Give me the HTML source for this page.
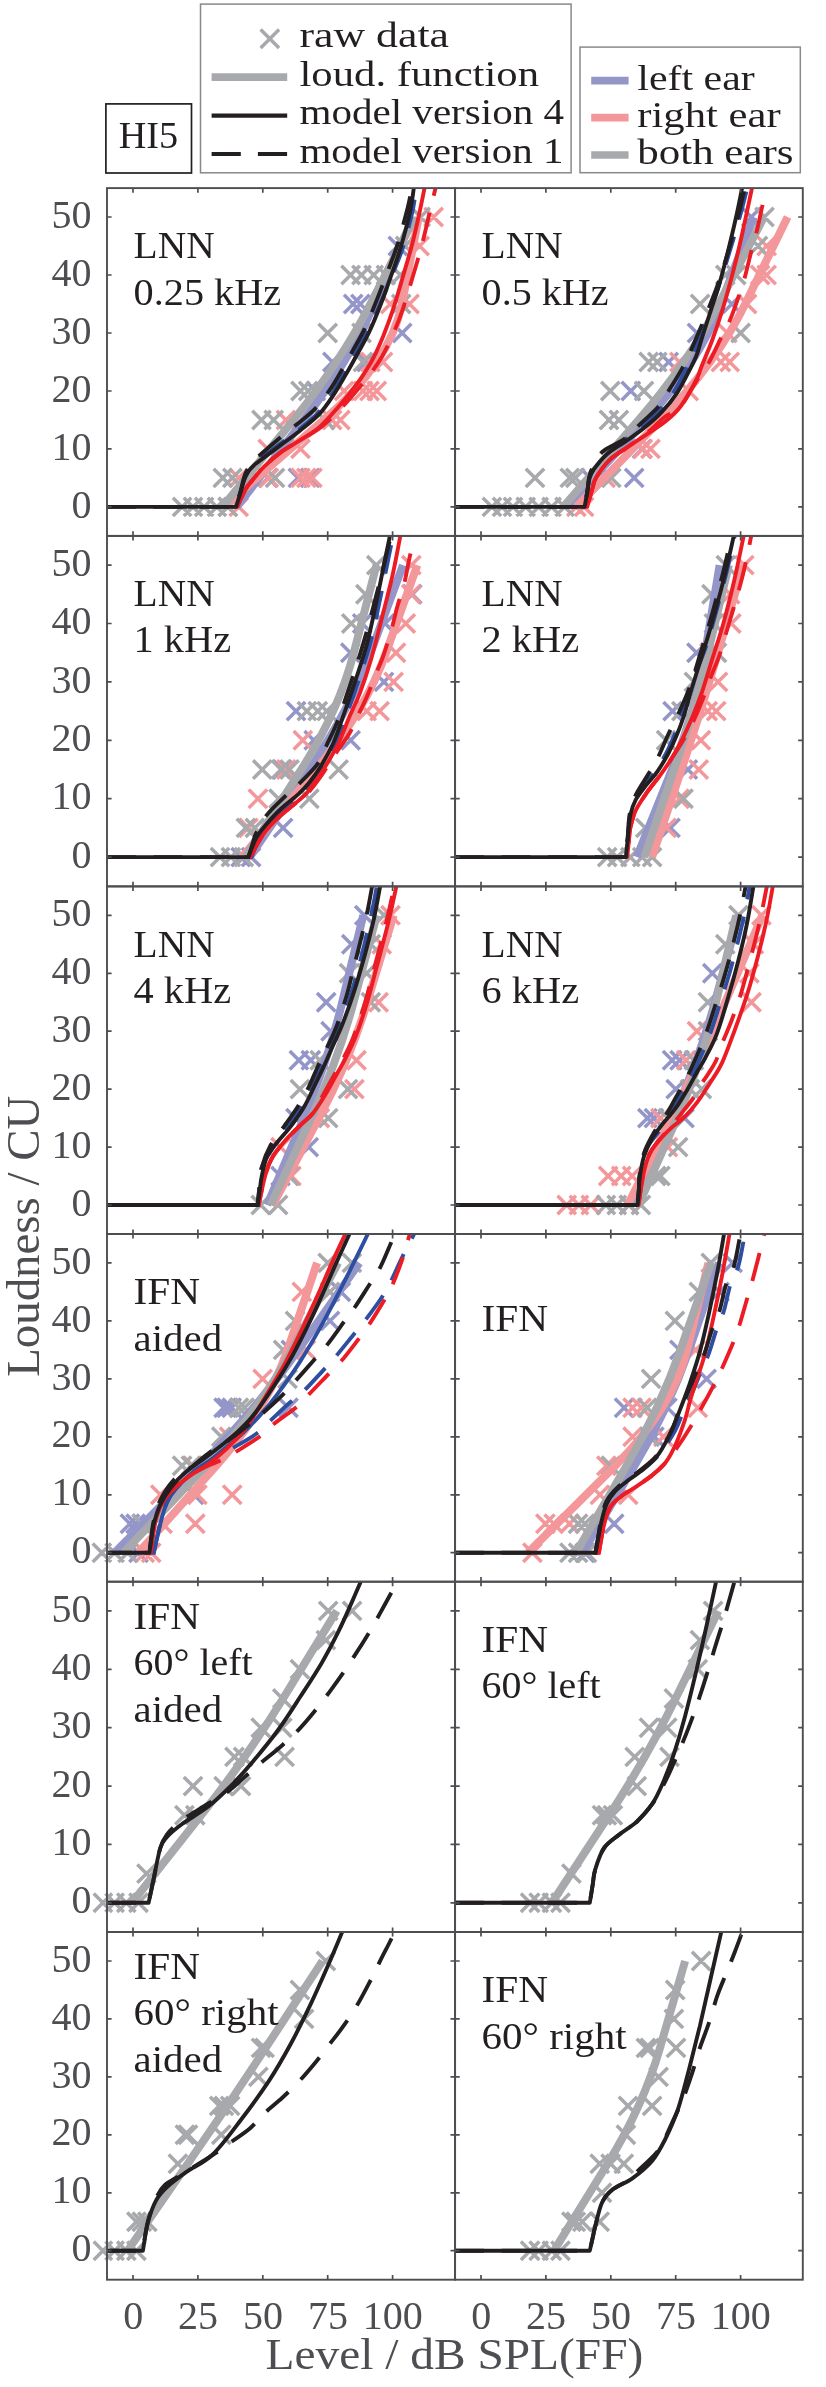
<!DOCTYPE html>
<html><head><meta charset="utf-8"><title>HI5 loudness</title>
<style>html,body{margin:0;padding:0;background:#fff}svg{display:block;will-change:transform}text{white-space:pre}</style></head>
<body>
<svg width="826" height="2387" viewBox="0 0 826 2387">
<rect width="826" height="2387" fill="#fff"/>
<defs>
<clipPath id="c00"><rect x="107" y="188.1" width="348" height="347.8"/></clipPath>
<clipPath id="c01"><rect x="455.1" y="188.1" width="347.7" height="347.8"/></clipPath>
<clipPath id="c10"><rect x="107" y="535.9" width="348" height="350.5"/></clipPath>
<clipPath id="c11"><rect x="455.1" y="535.9" width="347.7" height="350.5"/></clipPath>
<clipPath id="c20"><rect x="107" y="886.4" width="348" height="347.6"/></clipPath>
<clipPath id="c21"><rect x="455.1" y="886.4" width="347.7" height="347.6"/></clipPath>
<clipPath id="c30"><rect x="107" y="1234" width="348" height="347.7"/></clipPath>
<clipPath id="c31"><rect x="455.1" y="1234" width="347.7" height="347.7"/></clipPath>
<clipPath id="c40"><rect x="107" y="1581.7" width="348" height="350.3"/></clipPath>
<clipPath id="c41"><rect x="455.1" y="1581.7" width="347.7" height="350.3"/></clipPath>
<clipPath id="c50"><rect x="107" y="1932" width="348" height="347.7"/></clipPath>
<clipPath id="c51"><rect x="455.1" y="1932" width="347.7" height="347.7"/></clipPath>
</defs>
<path d="M288.7 468.7l18.4 18.4M288.7 487.1l18.4 -18.4M300.9 468.7l18.4 18.4M300.9 487.1l18.4 -18.4M258.8 468.7l18.4 18.4M258.8 487.1l18.4 -18.4M306.6 381.8l18.4 18.4M306.6 400.2l18.4 -18.4M323.2 352.8l18.4 18.4M323.2 371.2l18.4 -18.4M357.5 352.8l18.4 18.4M357.5 371.2l18.4 -18.4M393 323.8l18.4 18.4M393 342.2l18.4 -18.4M344 294.8l18.4 18.4M344 313.2l18.4 -18.4M351.2 294.8l18.4 18.4M351.2 313.2l18.4 -18.4M388.6 236.8l18.4 18.4M388.6 255.2l18.4 -18.4" stroke="#9496c9" stroke-width="3.5" fill="none"/>
<path d="M218.6 497.7l18.4 18.4M218.6 516.1l18.4 -18.4M229.5 497.7l18.4 18.4M229.5 516.1l18.4 -18.4M229.5 468.7l18.4 18.4M229.5 487.1l18.4 -18.4M259.6 468.7l18.4 18.4M259.6 487.1l18.4 -18.4M291.3 468.7l18.4 18.4M291.3 487.1l18.4 -18.4M297.2 468.7l18.4 18.4M297.2 487.1l18.4 -18.4M303.2 468.7l18.4 18.4M303.2 487.1l18.4 -18.4M258.5 439.7l18.4 18.4M258.5 458.1l18.4 -18.4M291.3 439.7l18.4 18.4M291.3 458.1l18.4 -18.4M276.7 410.8l18.4 18.4M276.7 429.2l18.4 -18.4M322.9 410.8l18.4 18.4M322.9 429.2l18.4 -18.4M331.2 410.8l18.4 18.4M331.2 429.2l18.4 -18.4M334.9 381.8l18.4 18.4M334.9 400.2l18.4 -18.4M353.8 381.8l18.4 18.4M353.8 400.2l18.4 -18.4M360.3 381.8l18.4 18.4M360.3 400.2l18.4 -18.4M367.6 381.8l18.4 18.4M367.6 400.2l18.4 -18.4M361.1 352.8l18.4 18.4M361.1 371.2l18.4 -18.4M373.8 352.8l18.4 18.4M373.8 371.2l18.4 -18.4M381.1 294.8l18.4 18.4M381.1 313.2l18.4 -18.4M400.3 294.8l18.4 18.4M400.3 313.2l18.4 -18.4M410.4 236.8l18.4 18.4M410.4 255.2l18.4 -18.4M424.4 207.8l18.4 18.4M424.4 226.2l18.4 -18.4" stroke="#f4979a" stroke-width="3.5" fill="none"/>
<path d="M172.9 497.7l18.4 18.4M172.9 516.1l18.4 -18.4M183.8 497.7l18.4 18.4M183.8 516.1l18.4 -18.4M194.9 497.7l18.4 18.4M194.9 516.1l18.4 -18.4M207.7 497.7l18.4 18.4M207.7 516.1l18.4 -18.4M218.6 497.7l18.4 18.4M218.6 516.1l18.4 -18.4M213.6 468.7l18.4 18.4M213.6 487.1l18.4 -18.4M223.2 468.7l18.4 18.4M223.2 487.1l18.4 -18.4M265.8 468.7l18.4 18.4M265.8 487.1l18.4 -18.4M252.3 410.8l18.4 18.4M252.3 429.2l18.4 -18.4M264.5 410.8l18.4 18.4M264.5 429.2l18.4 -18.4M315.9 410.8l18.4 18.4M315.9 429.2l18.4 -18.4M291.3 381.8l18.4 18.4M291.3 400.2l18.4 -18.4M299 381.8l18.4 18.4M299 400.2l18.4 -18.4M318.5 323.8l18.4 18.4M318.5 342.2l18.4 -18.4M352.3 323.8l18.4 18.4M352.3 342.2l18.4 -18.4M353.8 352.8l18.4 18.4M353.8 371.2l18.4 -18.4M341.4 265.8l18.4 18.4M341.4 284.2l18.4 -18.4M352.3 265.8l18.4 18.4M352.3 284.2l18.4 -18.4M364.5 265.8l18.4 18.4M364.5 284.2l18.4 -18.4M376.7 265.8l18.4 18.4M376.7 284.2l18.4 -18.4M391.2 265.8l18.4 18.4M391.2 284.2l18.4 -18.4M392 294.8l18.4 18.4M392 313.2l18.4 -18.4M395.9 236.8l18.4 18.4M395.9 255.2l18.4 -18.4M411.4 207.8l18.4 18.4M411.4 226.2l18.4 -18.4" stroke="#a7a9ac" stroke-width="3.5" fill="none"/>
<path clip-path="url(#c00)" d="M236.9 506.9L303.8 420Q348.5 362 374.4 304L413.4 217" stroke="#9496c9" stroke-width="8.0" fill="none" stroke-linejoin="round"/>
<path clip-path="url(#c00)" d="M223.4 506.9L323.7 420Q390.5 362 401.9 304L418.8 217" stroke="#f4979a" stroke-width="8.0" fill="none" stroke-linejoin="round"/>
<path clip-path="url(#c00)" d="M222.6 506.9L293.4 420Q340.7 362 370.4 304L414.9 217" stroke="#a7a9ac" stroke-width="8.0" fill="none" stroke-linejoin="round"/>
<g clip-path="url(#c00)"><path d="M230.1 506.9L236.1 506.9L236.1 506.9C236.9 504.2 239.6 495.3 241 490.7C242.4 486 243.2 482.3 244.4 479.1C245.6 475.9 247.1 473.9 248.3 471.5C249.5 469.2 249.8 467.2 251.6 465.2C253.5 463.1 254.7 462.8 259.2 459.4C263.7 456 272.2 449.7 278.6 444.9C285.1 440.1 291.4 435.6 297.9 430.4C304.3 425.2 311.7 419.7 317.3 413.6C323 407.5 327.4 400.5 331.9 393.9C336.3 387.2 340.3 380 344.1 373.6C347.8 367.1 350.7 361.8 354.4 355C358.2 348.3 362.1 341.5 366.4 333C370.7 324.5 376 313.3 380.1 304C384.3 294.7 387.4 286.6 391.2 277.3C394.9 268.1 399.1 259.2 402.6 248.4C406.1 237.5 410 222.7 412.3 212.1C414.7 201.6 415.8 189.7 416.5 185.2" stroke="#2e4ea1" stroke-width="3.9" fill="none" stroke-dasharray="29 17.5" stroke-dashoffset="30"/><path d="M231.4 506.9L237.4 506.9L237.4 506.9C238.7 504 243 493.9 245.4 489.5C247.8 485.2 248.8 484.6 251.9 480.8C255 477 259.3 471.4 264.1 466.6C269 461.8 275 456.5 281 452.1C287 447.7 293.7 444.4 300.2 440.2C306.6 436 313.2 432.6 319.7 426.9C326.2 421.2 333.2 412.8 339.1 406C345.1 399.3 351.1 391.7 355.2 386.3C359.4 380.9 361 378.4 364.1 373.6C367.1 368.7 370.5 363.6 373.7 357.3C376.9 351.1 380 343.9 383.3 335.9C386.5 327.9 389.9 319 393.1 309.2C396.4 299.5 399.5 288.3 402.7 277.3C405.9 266.4 409.5 254.6 412.3 243.7C415.2 232.8 417.5 221.9 419.6 212.1C421.7 202.4 424.2 189.7 425.1 185.2" stroke="#ed1c24" stroke-width="3.9" fill="none" stroke-linejoin="round"/><path d="M231.4 506.9L237.4 506.9L237.4 506.9C238.7 504 243 493.9 245.4 489.5C247.8 485.2 248.8 484.6 251.9 480.8C255 477 259.3 471.4 264.1 466.6C269 461.8 275 456.5 281 452.1C287 447.7 293.5 444.4 300.2 440.2C306.9 436 314.3 432.4 321.2 426.9C328.2 421.4 335.5 414 342 407.2C348.5 400.4 355.2 392.2 360.2 386.3C365.1 380.4 368.2 376.9 371.8 371.8C375.5 366.8 378.8 362.3 382.2 356.2C385.7 350.1 389.1 343.2 392.6 335.3C396.1 327.4 399.7 318.3 403 308.6C406.3 299 409.4 288.2 412.6 277.3C415.8 266.5 419.3 254.6 422.2 243.7C425.1 232.8 427.4 221.9 429.7 212.1C432.1 202.4 435.1 189.7 436.2 185.2" stroke="#ed1c24" stroke-width="3.9" fill="none" stroke-dasharray="29 17.5" stroke-dashoffset="31.3"/><path d="M107 506.9L236.1 506.9L236.1 506.9C236.9 504.2 239.6 495.3 241 490.7C242.4 486 243.2 482.3 244.4 479.1C245.6 475.9 246.7 473.9 248.3 471.5C249.9 469.2 251.8 467.2 254 465.2C256.2 463.1 257 462.8 261.5 459.4C266 456 274.5 449.7 281 444.9C287.4 440.1 293.7 435.6 300.2 430.4C306.6 425.2 314 419.7 319.7 413.6C325.3 407.5 329.7 400.5 334.2 393.9C338.7 387.2 342.6 380 346.4 373.6C350.2 367.1 353.1 361.8 356.8 355C360.5 348.3 364.7 341.5 368.7 333C372.8 324.5 377.3 313.3 380.9 304C384.6 294.7 387.3 286.6 390.5 277.3C393.8 268.1 397.2 259.2 400.4 248.4C403.6 237.5 407.7 222.7 410 212.1C412.3 201.6 413.5 189.7 414.2 185.2" stroke="#231f20" stroke-width="3.9" fill="none" stroke-linejoin="round"/><path d="M107 506.9L236.1 506.9L236.1 506.9C236.9 504.2 239.4 495.5 240.7 490.7C242 485.8 242.7 481.6 243.9 477.9C245 474.3 246.3 471.4 247.8 468.7C249.2 465.9 250.6 463.8 252.4 461.7C254.3 459.6 254.8 459.5 258.9 455.9C263 452.3 270.8 445.5 277.1 440.2C283.4 435 290.2 429.9 296.6 424.6C303 419.3 309.9 414.3 315.5 408.4C321.1 402.5 325.8 395.8 330.3 389.2C334.8 382.7 338.7 375.4 342.5 368.9C346.3 362.5 349.2 357.1 352.9 350.4C356.6 343.6 360.8 336.9 364.8 328.4C368.9 319.9 373.3 308.6 377 299.4C380.8 290.1 383.7 282 387.2 272.7C390.6 263.4 394.4 254.5 397.8 243.7C401.2 232.9 405.2 217.5 407.7 207.8C410.1 198 411.6 188.9 412.3 185.2" stroke="#231f20" stroke-width="3.9" fill="none" stroke-dasharray="29 17.5" stroke-dashoffset="0"/></g>
<text x="133.6" y="258.2" font-family="Liberation Serif, serif" font-size="37.3" fill="#231f20" textLength="81" lengthAdjust="spacingAndGlyphs">LNN</text>
<text x="133.6" y="304.6" font-family="Liberation Serif, serif" font-size="37.3" fill="#231f20" textLength="147.5" lengthAdjust="spacingAndGlyphs">0.25 kHz</text>
<path d="M625 468.7l18.4 18.4M625 487.1l18.4 -18.4M580.9 468.7l18.4 18.4M580.9 487.1l18.4 -18.4M632.8 439.7l18.4 18.4M632.8 458.1l18.4 -18.4M621.6 381.8l18.4 18.4M621.6 400.2l18.4 -18.4M659.5 352.8l18.4 18.4M659.5 371.2l18.4 -18.4M687.8 323.8l18.4 18.4M687.8 342.2l18.4 -18.4M722.6 294.8l18.4 18.4M722.6 313.2l18.4 -18.4M742.1 207.8l18.4 18.4M742.1 226.2l18.4 -18.4" stroke="#9496c9" stroke-width="3.5" fill="none"/>
<path d="M567.1 497.7l18.4 18.4M567.1 516.1l18.4 -18.4M574.9 497.7l18.4 18.4M574.9 516.1l18.4 -18.4M596.4 468.7l18.4 18.4M596.4 487.1l18.4 -18.4M633.6 439.7l18.4 18.4M633.6 458.1l18.4 -18.4M641.3 439.7l18.4 18.4M641.3 458.1l18.4 -18.4M679.5 381.8l18.4 18.4M679.5 400.2l18.4 -18.4M670.2 352.8l18.4 18.4M670.2 371.2l18.4 -18.4M711.7 352.8l18.4 18.4M711.7 371.2l18.4 -18.4M720.5 352.8l18.4 18.4M720.5 371.2l18.4 -18.4M718.2 323.8l18.4 18.4M718.2 342.2l18.4 -18.4M737.9 294.8l18.4 18.4M737.9 313.2l18.4 -18.4M750.9 265.8l18.4 18.4M750.9 284.2l18.4 -18.4M757.4 265.8l18.4 18.4M757.4 284.2l18.4 -18.4M757.4 236.8l18.4 18.4M757.4 255.2l18.4 -18.4" stroke="#f4979a" stroke-width="3.5" fill="none"/>
<path d="M482.7 497.7l18.4 18.4M482.7 516.1l18.4 -18.4M492.8 497.7l18.4 18.4M492.8 516.1l18.4 -18.4M503.8 497.7l18.4 18.4M503.8 516.1l18.4 -18.4M516.5 497.7l18.4 18.4M516.5 516.1l18.4 -18.4M529.5 497.7l18.4 18.4M529.5 516.1l18.4 -18.4M542.4 497.7l18.4 18.4M542.4 516.1l18.4 -18.4M555.4 497.7l18.4 18.4M555.4 516.1l18.4 -18.4M525.8 468.7l18.4 18.4M525.8 487.1l18.4 -18.4M560.6 468.7l18.4 18.4M560.6 487.1l18.4 -18.4M566.1 468.7l18.4 18.4M566.1 487.1l18.4 -18.4M602.1 468.7l18.4 18.4M602.1 487.1l18.4 -18.4M599.8 410.8l18.4 18.4M599.8 429.2l18.4 -18.4M609.7 410.8l18.4 18.4M609.7 429.2l18.4 -18.4M601.1 381.8l18.4 18.4M601.1 400.2l18.4 -18.4M634.8 381.8l18.4 18.4M634.8 400.2l18.4 -18.4M639.5 352.8l18.4 18.4M639.5 371.2l18.4 -18.4M648.1 352.8l18.4 18.4M648.1 371.2l18.4 -18.4M731.4 323.8l18.4 18.4M731.4 342.2l18.4 -18.4M690.9 294.8l18.4 18.4M690.9 313.2l18.4 -18.4M716.1 265.8l18.4 18.4M716.1 284.2l18.4 -18.4M727 265.8l18.4 18.4M727 284.2l18.4 -18.4M748.8 236.8l18.4 18.4M748.8 255.2l18.4 -18.4M755.3 207.8l18.4 18.4M755.3 226.2l18.4 -18.4" stroke="#a7a9ac" stroke-width="3.5" fill="none"/>
<path clip-path="url(#c01)" d="M566.7 506.9L646.1 420Q699.1 362 720.9 304L753.6 217" stroke="#9496c9" stroke-width="8.0" fill="none" stroke-linejoin="round"/>
<path clip-path="url(#c01)" d="M576.3 506.9L660.7 420Q717 362 745.2 304L787.6 217" stroke="#f4979a" stroke-width="8.0" fill="none" stroke-linejoin="round"/>
<path clip-path="url(#c01)" d="M563.3 506.9L638.5 420Q688.7 362 718.8 304L764 217" stroke="#a7a9ac" stroke-width="8.0" fill="none" stroke-linejoin="round"/>
<g clip-path="url(#c01)"><path d="M578.6 506.9L584.6 506.9L584.6 506.9C585.1 504.2 586.6 495.5 587.5 490.7C588.3 485.8 588.5 481.5 589.5 477.9C590.6 474.4 591 473.2 593.9 469.2C596.8 465.3 602 458.9 606.9 454.2C611.9 449.4 618.1 445.2 623.7 440.8C629.2 436.5 634.5 432.8 640.2 428.1C645.8 423.3 652.1 418.2 657.5 412.4C663 406.6 668.5 399.8 672.9 393.3C677.2 386.8 680.5 379.8 683.8 373.6C687 367.4 689.9 361.7 692.3 356.2C694.7 350.7 695.2 348.3 698.1 340.5C701 332.8 706.2 318.9 709.6 309.8C713.1 300.7 715.5 295.4 718.7 286C721.9 276.7 725.5 265.2 729 253.6C732.6 242 736.7 227.9 739.9 216.5C743 205.1 746.7 190.4 748 185.2" stroke="#2e4ea1" stroke-width="3.9" fill="none" stroke-dasharray="29 17.5" stroke-dashoffset="30.5"/><path d="M581.2 506.9L587.2 506.9L587.2 506.9C588 504 590.7 494.4 592.1 489.5C593.6 484.7 593.2 482.8 596 477.9C598.8 473.1 603.9 465.6 609 460.5C614.1 455.5 619.9 452.3 626.4 447.8C632.9 443.2 641.6 437.7 648.2 433.3C654.8 428.8 660.4 425.7 665.9 421.1C671.3 416.6 675.8 412.9 680.9 406C686 399.2 692.8 386.6 696.2 380C699.7 373.3 699 372.6 701.7 366C704.3 359.5 708.5 350.2 712.1 340.5C715.6 330.9 719.3 320 723 308.1C726.6 296.1 730.6 281.4 733.9 268.6C737.2 255.9 739.6 245.5 742.7 231.5C745.8 217.6 750.9 192.9 752.6 185.2" stroke="#ed1c24" stroke-width="3.9" fill="none" stroke-linejoin="round"/><path d="M581.2 506.9L587.2 506.9L587.2 506.9C588 504 590.7 494.4 592.1 489.5C593.6 484.7 593.2 482.8 596 477.9C598.8 473.1 603.9 465.6 609 460.5C614.1 455.5 619.9 452.5 626.4 447.8C632.9 443 641.7 437.3 648.2 432.1C654.7 426.9 660.5 420 665.3 416.5C670.1 412.9 673.7 413.5 677 410.7C680.3 407.9 681.7 405.2 685.3 399.7C688.9 394.2 694.6 383.8 698.6 377.6C702.5 371.4 705.2 369.1 708.9 362.6C712.7 356 717.4 345.2 720.9 338.2C724.4 331.3 726.6 328.1 729.7 320.8C732.8 313.6 736.8 302 739.3 294.7C741.8 287.5 742.8 284.6 744.8 277.3C746.8 270.1 749.3 258.9 751.3 251.3C753.3 243.6 754.8 239.4 756.7 231.5C758.6 223.7 761 212 762.7 204.3C764.3 196.6 765.9 188.3 766.6 185.2" stroke="#ed1c24" stroke-width="3.9" fill="none" stroke-dasharray="29 17.5" stroke-dashoffset="33.1"/><path d="M455.1 506.9L584.6 506.9L584.6 506.9C585.1 504.2 586.6 495.5 587.5 490.7C588.3 485.8 588.5 481.5 589.5 477.9C590.6 474.4 591 473.2 593.9 469.2C596.8 465.3 601.5 458.9 606.9 454.2C612.3 449.4 620.2 445.2 626.4 440.8C632.6 436.5 638.2 432.8 644 428.1C649.9 423.3 656 418.2 661.4 412.4C666.9 406.6 672.4 399.8 676.8 393.3C681.1 386.8 684.4 379.8 687.7 373.6C690.9 367.4 694 361.7 696.2 356.2C698.5 350.7 698.7 348.3 701.2 340.5C703.6 332.8 708.1 318.9 711 309.8C714 300.7 716.1 295.4 718.8 286C721.5 276.7 724.5 265.2 727.4 253.6C730.3 242 733.7 227.9 736.2 216.5C738.8 205.1 741.6 190.4 742.7 185.2" stroke="#231f20" stroke-width="3.9" fill="none" stroke-linejoin="round"/><path d="M455.1 506.9L584.6 506.9L584.6 506.9C585.1 504.2 586.7 495.5 587.5 490.7C588.2 485.8 588.1 481.8 589 477.9C589.9 474.1 590.4 471.8 592.6 467.5C594.9 463.1 597.2 456.6 602.5 451.8C607.8 447.1 618.1 443.6 624.3 439.1C630.5 434.5 633.8 430.1 639.6 424.6C645.4 419.1 654 412 659.1 406C664.2 400 666 395.2 670 388.6C674 382.1 679.1 374.6 683.2 366.6C687.4 358.6 691.3 349.5 695.2 340.5C699.1 331.5 703.2 321.8 706.9 312.7C710.5 303.6 713.8 295.9 717.3 286C720.7 276.2 724.2 265.2 727.6 253.6C731.1 242 735.1 227.9 738 216.5C741 205.1 744.1 190.4 745.3 185.2" stroke="#231f20" stroke-width="3.9" fill="none" stroke-dasharray="29 17.5" stroke-dashoffset="0"/></g>
<text x="481.6" y="258.2" font-family="Liberation Serif, serif" font-size="37.3" fill="#231f20" textLength="81" lengthAdjust="spacingAndGlyphs">LNN</text>
<text x="481.6" y="304.6" font-family="Liberation Serif, serif" font-size="37.3" fill="#231f20" textLength="127" lengthAdjust="spacingAndGlyphs">0.5 kHz</text>
<path d="M231.5 847.9l18.4 18.4M231.5 866.3l18.4 -18.4M241.9 847.9l18.4 18.4M241.9 866.3l18.4 -18.4M273.9 818.7l18.4 18.4M273.9 837.1l18.4 -18.4M273.1 760.3l18.4 18.4M273.1 778.7l18.4 -18.4M304.5 731.1l18.4 18.4M304.5 749.5l18.4 -18.4M341.4 731.1l18.4 18.4M341.4 749.5l18.4 -18.4M286.8 701.9l18.4 18.4M286.8 720.3l18.4 -18.4M374.8 672.7l18.4 18.4M374.8 691.1l18.4 -18.4M341.1 643.5l18.4 18.4M341.1 661.9l18.4 -18.4M353 614.3l18.4 18.4M353 632.7l18.4 -18.4M375.9 614.3l18.4 18.4M375.9 632.7l18.4 -18.4M403.1 585.1l18.4 18.4M403.1 603.5l18.4 -18.4" stroke="#9496c9" stroke-width="3.5" fill="none"/>
<path d="M239.3 818.7l18.4 18.4M239.3 837.1l18.4 -18.4M248.7 789.5l18.4 18.4M248.7 807.9l18.4 -18.4M277 760.3l18.4 18.4M277 778.7l18.4 -18.4M293.6 731.1l18.4 18.4M293.6 749.5l18.4 -18.4M357.5 701.9l18.4 18.4M357.5 720.3l18.4 -18.4M370.4 701.9l18.4 18.4M370.4 720.3l18.4 -18.4M384.4 672.7l18.4 18.4M384.4 691.1l18.4 -18.4M386.8 643.5l18.4 18.4M386.8 661.9l18.4 -18.4M396.6 614.3l18.4 18.4M396.6 632.7l18.4 -18.4M402.1 585.1l18.4 18.4M402.1 603.5l18.4 -18.4M402.1 555.9l18.4 18.4M402.1 574.3l18.4 -18.4" stroke="#f4979a" stroke-width="3.5" fill="none"/>
<path d="M210.8 847.9l18.4 18.4M210.8 866.3l18.4 -18.4M221.7 847.9l18.4 18.4M221.7 866.3l18.4 -18.4M234.7 847.9l18.4 18.4M234.7 866.3l18.4 -18.4M236.7 818.7l18.4 18.4M236.7 837.1l18.4 -18.4M245.6 818.7l18.4 18.4M245.6 837.1l18.4 -18.4M269.4 789.5l18.4 18.4M269.4 807.9l18.4 -18.4M300.1 789.5l18.4 18.4M300.1 807.9l18.4 -18.4M253.1 760.3l18.4 18.4M253.1 778.7l18.4 -18.4M271.8 760.3l18.4 18.4M271.8 778.7l18.4 -18.4M280.3 760.3l18.4 18.4M280.3 778.7l18.4 -18.4M329.4 760.3l18.4 18.4M329.4 778.7l18.4 -18.4M297.7 701.9l18.4 18.4M297.7 720.3l18.4 -18.4M308.6 701.9l18.4 18.4M308.6 720.3l18.4 -18.4M317.5 701.9l18.4 18.4M317.5 720.3l18.4 -18.4M342.1 614.3l18.4 18.4M342.1 632.7l18.4 -18.4M356.2 585.1l18.4 18.4M356.2 603.5l18.4 -18.4M367.1 555.9l18.4 18.4M367.1 574.3l18.4 -18.4" stroke="#a7a9ac" stroke-width="3.5" fill="none"/>
<path clip-path="url(#c10)" d="M249.8 857.1L309.3 769.5Q349 711.1 370.6 652.7L403 565.1" stroke="#9496c9" stroke-width="8.0" fill="none" stroke-linejoin="round"/>
<path clip-path="url(#c10)" d="M242 857.1L316 769.5Q365.4 711.1 386.1 652.7L417.3 565.1" stroke="#f4979a" stroke-width="8.0" fill="none" stroke-linejoin="round"/>
<path clip-path="url(#c10)" d="M245.4 857.1L301.3 769.5Q338.6 711.1 353.8 652.7L376.5 565.1" stroke="#a7a9ac" stroke-width="8.0" fill="none" stroke-linejoin="round"/>
<g clip-path="url(#c10)"><path d="M245.4 857.1L251.4 857.1L251.4 857.1C252.1 855.4 254.1 850 255.5 846.6C257 843.2 257.7 840.3 260 836.7C262.2 833.1 264.8 829.7 268.8 825C272.8 820.3 281.5 811.4 284.1 808.7" stroke="#2e4ea1" stroke-width="3.9" fill="none" stroke-linejoin="round"/><path d="M245.4 857.1L251.4 857.1L251.4 857.1C252.1 855.4 254.1 850 255.5 846.6C257 843.2 257.7 840.3 260 836.7C262.2 833.1 264.8 829.7 268.8 825C272.8 820.3 278.6 813.8 284.1 808.7C289.5 803.5 296.8 798.4 301.5 794.1C306.2 789.7 308.8 786.9 312.4 782.4C316 777.9 319.3 773.7 323.3 767.2C327.3 760.7 332.6 751.4 336.3 743.2C340 735.1 341.9 728.7 345.6 718.1C349.4 707.5 354.8 691.8 358.9 679.6C362.9 667.4 366.5 657.1 369.8 645.1C373 633.1 375.4 621.2 378.3 607.7C381.2 594.3 384.6 577 387.2 564.5C389.7 552.1 392.6 538.2 393.6 533" stroke="#2e4ea1" stroke-width="3.9" fill="none" stroke-dasharray="29 17.5" stroke-dashoffset="45.3"/><path d="M244.3 857.1L250.3 857.1L250.3 857.1C252.5 853.3 258.6 841 263.3 834.4C268 827.7 273.2 822.7 278.6 817.4C284.1 812.2 291.3 806.9 296 802.8C300.8 798.7 304.2 795.9 306.9 792.9C309.7 789.9 309.8 788.3 312.4 784.7C314.9 781.1 318.1 777.9 322.3 771.3C326.5 764.7 333 754.2 337.6 745C342.2 735.8 346.1 724.5 349.8 715.8C353.5 707.1 356.4 702.3 359.9 693C363.4 683.8 367.2 672.7 370.8 660.3C374.4 647.9 378.1 633.1 381.7 618.8C385.3 604.6 389.4 589.3 392.6 575C395.8 560.7 399.5 540 400.9 533" stroke="#ed1c24" stroke-width="3.9" fill="none" stroke-linejoin="round"/><path d="M244.3 857.1L250.3 857.1L250.3 857.1C252.5 853.3 258.6 841 263.3 834.4C268 827.7 273.2 822.7 278.6 817.4C284.1 812.2 291.3 806.7 296 802.8C300.8 798.9 303 798.3 306.9 794.1C310.9 789.9 315.2 784.4 319.9 777.7C324.7 771 330.5 761.3 335.5 753.8C340.5 746.3 345.9 739.5 349.8 732.7C353.7 726 356 719.4 358.9 713.5C361.7 707.5 363.6 704.2 366.7 697.1C369.7 690 374.4 678 377.3 670.8C380.2 663.6 381.5 661.5 384 653.9C386.6 646.3 390.4 633 392.6 625.3C394.8 617.6 395 614.9 397 607.7C399 600.5 402.4 590.7 404.6 582C406.7 573.4 408 563.9 410 555.8C412 547.6 415.6 536.8 416.8 533" stroke="#ed1c24" stroke-width="3.9" fill="none" stroke-dasharray="29 17.5" stroke-dashoffset="44.3"/><path d="M107 857.1L248.3 857.1L248.3 857.1C249 855.4 251 850 252.4 846.6C253.9 843.2 254.6 840.3 256.8 836.7C259 833.1 261.6 829.7 265.7 825C269.7 820.3 275.5 813.8 281 808.7C286.4 803.5 293.7 798.4 298.4 794.1C303.1 789.7 305.6 786.9 309.3 782.4C312.9 777.9 316.2 773.7 320.2 767.2C324.2 760.7 329.4 751.4 333.2 743.2C336.9 735.1 338.7 728.7 342.5 718.1C346.3 707.5 351.7 691.8 355.7 679.6C359.8 667.4 363.4 657.1 366.7 645.1C369.9 633.1 372.3 621.2 375.2 607.7C378.1 594.3 381.5 577 384 564.5C386.6 552.1 389.5 538.2 390.5 533" stroke="#231f20" stroke-width="3.9" fill="none" stroke-linejoin="round"/><path d="M107 857.1L248.3 857.1L248.3 857.1C249 855 251.1 848.4 252.4 844.3C253.8 840.2 253.9 837.5 256.3 832.6C258.7 827.7 261.9 821.1 266.7 815.1C271.5 809.1 279.5 801.9 285.1 796.4C290.8 790.9 295 787.8 300.5 782.4C305.9 776.9 313.5 769.9 317.8 763.7C322.2 757.5 323.4 752.1 326.7 745C330 737.9 333.5 731.6 337.6 721.1C341.6 710.5 346.9 694.6 351.1 681.9C355.3 669.3 359.1 657.5 362.8 645.1C366.4 632.8 369.6 621.2 373.1 607.7C376.7 594.3 381 577 384 564.5C387.1 552.1 390.3 538.2 391.6 533" stroke="#231f20" stroke-width="3.9" fill="none" stroke-dasharray="29 17.5" stroke-dashoffset="0"/></g>
<text x="133.6" y="606" font-family="Liberation Serif, serif" font-size="37.3" fill="#231f20" textLength="81" lengthAdjust="spacingAndGlyphs">LNN</text>
<text x="133.6" y="652.4" font-family="Liberation Serif, serif" font-size="37.3" fill="#231f20" textLength="97.5" lengthAdjust="spacingAndGlyphs">1 kHz</text>
<path d="M661.3 818.7l18.4 18.4M661.3 837.1l18.4 -18.4M678.7 760.3l18.4 18.4M678.7 778.7l18.4 -18.4M663.4 701.9l18.4 18.4M663.4 720.3l18.4 -18.4M687.3 643.5l18.4 18.4M687.3 661.9l18.4 -18.4" stroke="#9496c9" stroke-width="3.5" fill="none"/>
<path d="M657.4 818.7l18.4 18.4M657.4 837.1l18.4 -18.4M670.4 789.5l18.4 18.4M670.4 807.9l18.4 -18.4M689.6 760.3l18.4 18.4M689.6 778.7l18.4 -18.4M691.7 731.1l18.4 18.4M691.7 749.5l18.4 -18.4M707 701.9l18.4 18.4M707 720.3l18.4 -18.4M698.5 701.9l18.4 18.4M698.5 720.3l18.4 -18.4M708.8 672.7l18.4 18.4M708.8 691.1l18.4 -18.4M700.3 643.5l18.4 18.4M700.3 661.9l18.4 -18.4M722.1 614.3l18.4 18.4M722.1 632.7l18.4 -18.4M721 585.1l18.4 18.4M721 603.5l18.4 -18.4M735.1 555.9l18.4 18.4M735.1 574.3l18.4 -18.4" stroke="#f4979a" stroke-width="3.5" fill="none"/>
<path d="M598 847.9l18.4 18.4M598 866.3l18.4 -18.4M607.9 847.9l18.4 18.4M607.9 866.3l18.4 -18.4M621.1 847.9l18.4 18.4M621.1 866.3l18.4 -18.4M633 847.9l18.4 18.4M633 866.3l18.4 -18.4M642.9 847.9l18.4 18.4M642.9 866.3l18.4 -18.4M636.1 818.7l18.4 18.4M636.1 837.1l18.4 -18.4M674.3 789.5l18.4 18.4M674.3 807.9l18.4 -18.4M656.9 731.1l18.4 18.4M656.9 749.5l18.4 -18.4M672.2 701.9l18.4 18.4M672.2 720.3l18.4 -18.4M684.7 672.7l18.4 18.4M684.7 691.1l18.4 -18.4M707.8 643.5l18.4 18.4M707.8 661.9l18.4 -18.4M704.7 614.3l18.4 18.4M704.7 632.7l18.4 -18.4M702.3 585.1l18.4 18.4M702.3 603.5l18.4 -18.4M716.6 555.9l18.4 18.4M716.6 574.3l18.4 -18.4" stroke="#a7a9ac" stroke-width="3.5" fill="none"/>
<path clip-path="url(#c11)" d="M636.8 857.1L672 769.5Q695.4 711.1 705.1 652.7L719.6 565.1" stroke="#9496c9" stroke-width="8.0" fill="none" stroke-linejoin="round"/>
<path clip-path="url(#c11)" d="M652.1 857.1L681.5 769.5Q701.2 711.1 718 652.7L743.2 565.1" stroke="#f4979a" stroke-width="8.0" fill="none" stroke-linejoin="round"/>
<path clip-path="url(#c11)" d="M644.3 857.1L674.1 769.5Q693.9 711.1 707.9 652.7L728.9 565.1" stroke="#a7a9ac" stroke-width="8.0" fill="none" stroke-linejoin="round"/>
<g clip-path="url(#c11)"><path d="M619.9 857.1L625.9 857.1L625.9 857.1C626.2 853.7 627.2 843.7 628 836.7C628.7 829.7 629.4 821.2 630.3 815.1C631.2 809 631.1 805 633.4 799.9C635.7 794.8 640.7 789.5 644.3 784.7C647.9 779.9 651.6 776.4 655.2 771.3C658.8 766.1 662.6 759.9 665.9 753.8C669.1 747.6 672.1 740.6 674.7 734.5C677.2 728.4 678.5 725.3 681.2 717C683.9 708.6 686.8 695.5 690.8 684.3C694.8 673 700.9 661.2 705.1 649.2C709.3 637.2 712.3 625.5 716 612.4C719.6 599.4 723.6 584.2 726.9 570.9C730.1 557.7 734 539.3 735.4 533" stroke="#2e4ea1" stroke-width="3.9" fill="none" stroke-dasharray="29 17.5" stroke-dashoffset="25.3"/><path d="M621.2 857.1L627.2 857.1L627.2 857.1C627.5 854.2 628.5 844.5 629 839.6C629.5 834.8 629.2 832.8 630.3 827.9C631.4 823.1 633 816.3 635.7 810.4C638.5 804.6 642.7 798.6 646.6 792.9C650.6 787.2 655.6 781.4 659.6 776C663.6 770.5 666.9 766 670.5 760.2C674.2 754.3 677.8 748.2 681.4 740.9C685.1 733.6 689.2 724.4 692.6 716.4C696 708.4 698.3 702.8 701.7 693C705 683.3 708.9 669.7 712.6 658C716.2 646.3 719.9 636 723.5 622.9C727.1 609.9 730.9 594.7 734.4 579.7C737.9 564.7 742.6 540.8 744.3 533" stroke="#ed1c24" stroke-width="3.9" fill="none" stroke-linejoin="round"/><path d="M621.2 857.1L627.2 857.1L627.2 857.1C627.5 854.2 628.5 844.5 629 839.6C629.5 834.8 629.2 832.8 630.3 827.9C631.4 823.1 633 816.3 635.7 810.4C638.5 804.6 642.7 798.6 646.6 792.9C650.6 787.2 655.6 781.4 659.6 776C663.6 770.5 666.8 765.8 670.5 760.2C674.3 754.5 678.5 748.3 682.2 742.1C685.9 735.9 689.3 729.5 692.6 722.8C695.8 716.1 698.7 709.3 701.7 701.8C704.7 694.3 707.6 685.5 710.5 677.8C713.4 670.1 716.8 662.9 719.3 655.6C721.9 648.3 723.7 641.2 725.8 634C728 626.8 730.1 619.7 732.3 612.4C734.5 605.1 736.6 598.2 738.8 590.2C741 582.2 743.1 574.1 745.3 564.5C747.5 555 750.7 538.2 751.8 533" stroke="#ed1c24" stroke-width="3.9" fill="none" stroke-dasharray="29 17.5" stroke-dashoffset="26.6"/><path d="M455.1 857.1L625.9 857.1L625.9 857.1C626.2 853.7 627.2 843.7 628 836.7C628.7 829.7 629 821.2 630.3 815.1C631.6 809 633 805 635.7 799.9C638.5 794.8 643 789.5 646.6 784.7C650.3 779.9 654 776.4 657.5 771.3C661.1 766.1 664.9 759.9 668.2 753.8C671.4 747.6 674.5 740.6 677 734.5C679.6 728.4 680.8 725.3 683.5 717C686.2 708.6 689.7 695.5 693.1 684.3C696.5 673 700.4 661.2 704 649.2C707.7 637.2 711.3 625.5 714.9 612.4C718.6 599.4 722.6 584.2 725.8 570.9C729.1 557.7 733 539.3 734.4 533" stroke="#231f20" stroke-width="3.9" fill="none" stroke-linejoin="round"/><path d="M455.1 857.1L625.9 857.1L625.9 857.1C626.2 853.7 627 844 627.7 836.7C628.3 829.4 628.4 820.3 629.8 813.3C631.1 806.4 632.6 801.9 635.7 795.2C638.9 788.6 644.9 780.1 648.7 773.6C652.5 767.1 655.3 762.6 658.6 756.1C661.8 749.6 664.8 741.8 668.2 734.5C671.6 727.2 675.3 720.7 679.1 712.3C682.9 703.9 687 694.8 690.8 684.3C694.5 673.7 698 661.2 701.7 649.2C705.3 637.2 708.9 625.5 712.6 612.4C716.2 599.4 720.2 584.2 723.5 570.9C726.8 557.7 730.8 539.3 732.3 533" stroke="#231f20" stroke-width="3.9" fill="none" stroke-dasharray="29 17.5" stroke-dashoffset="0"/></g>
<text x="481.6" y="606" font-family="Liberation Serif, serif" font-size="37.3" fill="#231f20" textLength="81" lengthAdjust="spacingAndGlyphs">LNN</text>
<text x="481.6" y="652.4" font-family="Liberation Serif, serif" font-size="37.3" fill="#231f20" textLength="97.5" lengthAdjust="spacingAndGlyphs">2 kHz</text>
<path d="M271.3 1166.8l18.4 18.4M271.3 1185.2l18.4 -18.4M299.6 1137.9l18.4 18.4M299.6 1156.3l18.4 -18.4M286.3 1108.9l18.4 18.4M286.3 1127.3l18.4 -18.4M289.7 1051l18.4 18.4M289.7 1069.4l18.4 -18.4M301.6 1051l18.4 18.4M301.6 1069.4l18.4 -18.4M321.4 1022l18.4 18.4M321.4 1040.4l18.4 -18.4M317 993l18.4 18.4M317 1011.4l18.4 -18.4M342.1 935.1l18.4 18.4M342.1 953.5l18.4 -18.4M355.1 906.1l18.4 18.4M355.1 924.5l18.4 -18.4" stroke="#9496c9" stroke-width="3.5" fill="none"/>
<path d="M282.2 1166.8l18.4 18.4M282.2 1185.2l18.4 -18.4M271.3 1137.9l18.4 18.4M271.3 1156.3l18.4 -18.4M310.7 1108.9l18.4 18.4M310.7 1127.3l18.4 -18.4M345.2 1079.9l18.4 18.4M345.2 1098.3l18.4 -18.4M347.3 1051l18.4 18.4M347.3 1069.4l18.4 -18.4M369.4 993l18.4 18.4M369.4 1011.4l18.4 -18.4M372.5 935.1l18.4 18.4M372.5 953.5l18.4 -18.4M381.3 906.1l18.4 18.4M381.3 924.5l18.4 -18.4" stroke="#f4979a" stroke-width="3.5" fill="none"/>
<path d="M251.5 1195.8l18.4 18.4M251.5 1214.2l18.4 -18.4M268.9 1195.8l18.4 18.4M268.9 1214.2l18.4 -18.4M279.8 1166.8l18.4 18.4M279.8 1185.2l18.4 -18.4M319 1108.9l18.4 18.4M319 1127.3l18.4 -18.4M290.7 1079.9l18.4 18.4M290.7 1098.3l18.4 -18.4M338.8 1079.9l18.4 18.4M338.8 1098.3l18.4 -18.4M310.5 1051l18.4 18.4M310.5 1069.4l18.4 -18.4M361.6 993l18.4 18.4M361.6 1011.4l18.4 -18.4M339.8 964.1l18.4 18.4M339.8 982.5l18.4 -18.4M357.5 964.1l18.4 18.4M357.5 982.5l18.4 -18.4M361.6 935.1l18.4 18.4M361.6 953.5l18.4 -18.4M374.8 906.1l18.4 18.4M374.8 924.5l18.4 -18.4" stroke="#a7a9ac" stroke-width="3.5" fill="none"/>
<path clip-path="url(#c20)" d="M267.2 1205L303.8 1118.1Q328.2 1060.2 342.2 1002.2L363.3 915.3" stroke="#9496c9" stroke-width="8.0" fill="none" stroke-linejoin="round"/>
<path clip-path="url(#c20)" d="M272.7 1205L318.9 1118.1Q349.8 1060.2 367.3 1002.2L393.6 915.3" stroke="#f4979a" stroke-width="8.0" fill="none" stroke-linejoin="round"/>
<path clip-path="url(#c20)" d="M270.6 1205L311.1 1118.1Q338.1 1060.2 353.6 1002.2L376.8 915.3" stroke="#a7a9ac" stroke-width="8.0" fill="none" stroke-linejoin="round"/>
<g clip-path="url(#c20)"><path d="M251.6 1205L257.6 1205L257.6 1205C257.9 1202.1 258.7 1193.9 259.4 1187.6C260.1 1181.3 259.3 1174.4 261.8 1167.3C264.3 1160.3 270 1152.3 274.5 1145.3C278.9 1138.4 284 1132.1 288.5 1125.6C293.1 1119.2 297.7 1113 301.8 1106.5C305.8 1100 309.2 1093.8 312.7 1086.8C316.1 1079.9 319.8 1070.7 322.5 1064.8C325.2 1058.9 326.1 1057.6 329 1051.5C331.9 1045.3 336.3 1037.2 339.9 1027.7C343.5 1018.3 347.9 1004.2 350.8 994.7C353.8 985.2 355.1 980 357.6 970.9C360 961.9 363 950 365.4 940.2C367.7 930.5 369.9 921.9 371.8 912.4C373.8 903 376.4 888.3 377.3 883.5" stroke="#2e4ea1" stroke-width="3.9" fill="none" stroke-dasharray="29 17.5" stroke-dashoffset="5.1"/><path d="M252.7 1205L258.7 1205L258.7 1205C259.7 1200.2 263 1183.8 265.1 1176C267.3 1168.3 268.4 1164.4 271.6 1158.7C274.9 1152.9 279.9 1146.8 284.6 1141.3C289.3 1135.8 295.2 1130.4 299.9 1125.6C304.7 1120.9 308.8 1118.3 313.2 1112.9C317.5 1107.5 322.2 1099.8 326.2 1093.2C330.1 1086.6 334 1079 337.1 1073.5C340.1 1068 341.5 1066.3 344.6 1060.2C347.7 1054 352.1 1045.8 355.7 1036.4C359.4 1027 363.1 1015.9 366.7 1004C370.2 992 373.7 978.1 377.3 964.6C380.9 951 384.9 936.4 388.2 922.9C391.5 909.3 395.6 890 397 883.5" stroke="#ed1c24" stroke-width="3.9" fill="none" stroke-linejoin="round"/><path d="M252.7 1205L258.7 1205L258.7 1205C259.7 1200.2 263 1183.8 265.1 1176C267.3 1168.3 268.4 1164.4 271.6 1158.7C274.9 1152.9 279.9 1146.8 284.6 1141.3C289.3 1135.8 295.2 1130.4 299.9 1125.6C304.7 1120.9 309.1 1118.3 313.2 1112.9C317.2 1107.5 320.4 1099.8 324.1 1093.2C327.7 1086.6 331.9 1079 335 1073.5C338.1 1068 339.4 1066.3 342.5 1060.2C345.6 1054 350 1045.8 353.7 1036.4C357.3 1027 361 1015.9 364.6 1004C368.2 992 371.6 978.1 375.2 964.6C378.8 951 382.8 936.4 386.1 922.9C389.4 909.3 393.5 890 394.9 883.5" stroke="#ed1c24" stroke-width="3.9" fill="none" stroke-dasharray="29 17.5" stroke-dashoffset="6.1"/><path d="M107 1205L257.6 1205L257.6 1205C258 1202.6 259 1195.3 259.7 1190.5C260.4 1185.7 260.5 1181.7 261.8 1176C263 1170.3 264.5 1162.1 267.2 1156.3C269.9 1150.5 274.1 1146.4 278.1 1141.3C282.2 1136.2 287 1131.4 291.4 1125.6C295.7 1119.8 300.4 1113.4 304.3 1106.5C308.3 1099.7 311.9 1091.4 315.2 1084.5C318.6 1077.5 321.7 1071.3 324.6 1064.8C327.5 1058.3 330 1052.2 332.9 1045.7C335.8 1039.1 338.4 1034.6 342 1025.4C345.6 1016.2 350.7 1002.2 354.4 990.6C358.2 979 361.3 967.8 364.6 955.9C367.8 943.9 371.2 930.9 373.9 918.8C376.6 906.7 379.5 889.3 380.7 883.5" stroke="#231f20" stroke-width="3.9" fill="none" stroke-linejoin="round"/><path d="M107 1205L257.6 1205L257.6 1205C257.9 1202.1 258.7 1193.9 259.4 1187.6C260.1 1181.3 259.9 1174.4 261.8 1167.3C263.6 1160.3 266.8 1152.3 270.6 1145.3C274.4 1138.4 280.1 1132.1 284.6 1125.6C289.2 1119.2 293.8 1113 297.9 1106.5C301.9 1100 305.3 1093.8 308.8 1086.8C312.2 1079.9 315.9 1070.7 318.6 1064.8C321.3 1058.9 322.2 1057.6 325.1 1051.5C328 1045.3 332.4 1037.2 336 1027.7C339.7 1018.3 344.1 1004.2 346.9 994.7C349.7 985.2 350.6 980 352.9 970.9C355.2 961.9 358.3 950 360.7 940.2C363.1 930.5 365.2 921.9 367.2 912.4C369.2 903 371.7 888.3 372.6 883.5" stroke="#231f20" stroke-width="3.9" fill="none" stroke-dasharray="29 17.5" stroke-dashoffset="0"/></g>
<text x="133.6" y="956.5" font-family="Liberation Serif, serif" font-size="37.3" fill="#231f20" textLength="81" lengthAdjust="spacingAndGlyphs">LNN</text>
<text x="133.6" y="1002.9" font-family="Liberation Serif, serif" font-size="37.3" fill="#231f20" textLength="97.5" lengthAdjust="spacingAndGlyphs">4 kHz</text>
<path d="M638.2 1108.9l18.4 18.4M638.2 1127.3l18.4 -18.4M644.7 1108.9l18.4 18.4M644.7 1127.3l18.4 -18.4M675.3 1108.9l18.4 18.4M675.3 1127.3l18.4 -18.4M666.5 1079.9l18.4 18.4M666.5 1098.3l18.4 -18.4M662.9 1051l18.4 18.4M662.9 1069.4l18.4 -18.4M670.4 1051l18.4 18.4M670.4 1069.4l18.4 -18.4M703.1 964.1l18.4 18.4M703.1 982.5l18.4 -18.4" stroke="#9496c9" stroke-width="3.5" fill="none"/>
<path d="M557.5 1195.8l18.4 18.4M557.5 1214.2l18.4 -18.4M569.7 1195.8l18.4 18.4M569.7 1214.2l18.4 -18.4M581.6 1195.8l18.4 18.4M581.6 1214.2l18.4 -18.4M619.8 1195.8l18.4 18.4M619.8 1214.2l18.4 -18.4M599 1166.8l18.4 18.4M599 1185.2l18.4 -18.4M612 1166.8l18.4 18.4M612 1185.2l18.4 -18.4M622.9 1166.8l18.4 18.4M622.9 1185.2l18.4 -18.4M658.7 1137.9l18.4 18.4M658.7 1156.3l18.4 -18.4M651.2 1108.9l18.4 18.4M651.2 1127.3l18.4 -18.4M676.9 1051l18.4 18.4M676.9 1069.4l18.4 -18.4M687.8 1022l18.4 18.4M687.8 1040.4l18.4 -18.4M742.3 993l18.4 18.4M742.3 1011.4l18.4 -18.4M740.2 964.1l18.4 18.4M740.2 982.5l18.4 -18.4M744.7 935.1l18.4 18.4M744.7 953.5l18.4 -18.4M752.2 906.1l18.4 18.4M752.2 924.5l18.4 -18.4" stroke="#f4979a" stroke-width="3.5" fill="none"/>
<path d="M596.7 1195.8l18.4 18.4M596.7 1214.2l18.4 -18.4M607.6 1195.8l18.4 18.4M607.6 1214.2l18.4 -18.4M619.8 1195.8l18.4 18.4M619.8 1214.2l18.4 -18.4M631.7 1195.8l18.4 18.4M631.7 1214.2l18.4 -18.4M647 1166.8l18.4 18.4M647 1185.2l18.4 -18.4M651.2 1166.8l18.4 18.4M651.2 1185.2l18.4 -18.4M668.9 1137.9l18.4 18.4M668.9 1156.3l18.4 -18.4M658.7 1108.9l18.4 18.4M658.7 1127.3l18.4 -18.4M692.7 1079.9l18.4 18.4M692.7 1098.3l18.4 -18.4M680.8 1079.9l18.4 18.4M680.8 1098.3l18.4 -18.4M684.7 1051l18.4 18.4M684.7 1069.4l18.4 -18.4M698.7 1022l18.4 18.4M698.7 1040.4l18.4 -18.4M698.7 993l18.4 18.4M698.7 1011.4l18.4 -18.4M716.1 935.1l18.4 18.4M716.1 953.5l18.4 -18.4M729.3 906.1l18.4 18.4M729.3 924.5l18.4 -18.4" stroke="#a7a9ac" stroke-width="3.5" fill="none"/>
<path clip-path="url(#c21)" d="M632.1 1205L672.3 1118.1Q699.1 1060.2 714.9 1002.2L738.5 915.3" stroke="#9496c9" stroke-width="8.0" fill="none" stroke-linejoin="round"/>
<path clip-path="url(#c21)" d="M627.7 1205L671.3 1118.1Q700.4 1060.2 725.2 1002.2L762.4 915.3" stroke="#f4979a" stroke-width="8.0" fill="none" stroke-linejoin="round"/>
<path clip-path="url(#c21)" d="M638.6 1205L677.1 1118.1Q702.7 1060.2 716.1 1002.2L736.2 915.3" stroke="#a7a9ac" stroke-width="8.0" fill="none" stroke-linejoin="round"/>
<g clip-path="url(#c21)"><path d="M631.6 1205L637.6 1205L637.6 1205C637.8 1202.3 638.5 1194.1 638.9 1188.8C639.2 1183.5 638.8 1179.6 639.9 1173.1C641 1166.7 642.3 1156.7 645.3 1150C648.4 1143.2 653.7 1138.8 658.1 1132.6C662.4 1126.4 667.7 1118.7 671.3 1112.9C674.9 1107.1 676.6 1103.6 679.9 1097.8C683.1 1092 687.2 1085.2 690.8 1078.1C694.3 1071.1 698 1062.9 701.2 1055.5C704.4 1048.2 707.1 1042 710 1034.1C712.9 1026.2 715.3 1018.2 718.6 1008C721.8 997.9 726.2 984.6 729.5 973.3C732.7 962 735.7 950.4 738.3 940.2C740.8 930.1 742.8 921.9 744.8 912.4C746.8 903 749.3 888.3 750.2 883.5" stroke="#2e4ea1" stroke-width="3.9" fill="none" stroke-dasharray="29 17.5" stroke-dashoffset="37"/><path d="M632.6 1205L638.6 1205L638.6 1205C639.3 1200.2 641.2 1184.5 643 1176C644.8 1167.5 646.9 1159.8 649.5 1154C652.1 1148.2 654.7 1145.6 658.3 1141.3C662 1136.9 666.9 1132 671.3 1127.9C675.7 1123.9 680.2 1121.3 684.5 1116.9C688.9 1112.6 693.2 1107.7 697.5 1101.9C701.9 1096.1 706.4 1088.6 710.5 1082.2C714.6 1075.7 718 1071.5 721.9 1063.1C725.9 1054.7 729.9 1043.2 734.1 1031.8C738.3 1020.4 743.1 1007.3 747.1 994.7C751.1 982 754.7 968.5 758 955.9C761.3 943.2 764.3 930.9 766.8 918.8C769.4 906.7 772.2 889.3 773.3 883.5" stroke="#ed1c24" stroke-width="3.9" fill="none" stroke-linejoin="round"/><path d="M632.6 1205L638.6 1205L638.6 1205C639.3 1200.2 641.2 1184.5 643 1176C644.8 1167.5 646.9 1159.8 649.5 1154C652.1 1148.2 654.7 1145.9 658.3 1141.3C662 1136.6 666.9 1131.5 671.3 1126.2C675.7 1120.9 680.9 1114 684.5 1109.4C688.2 1104.8 690.2 1102.7 693.1 1098.4C696 1094.1 699.4 1087.5 701.9 1083.3C704.5 1079.2 706.1 1077.3 708.4 1073.5C710.8 1069.7 713.6 1065.9 716 1060.7C718.3 1055.6 720 1049.2 722.4 1042.8C724.9 1036.4 727.8 1030.2 730.8 1022.5C733.7 1014.8 736.9 1006.6 740.1 996.4C743.3 986.3 746.4 974.2 749.7 961.7C753 949.1 756.9 934.1 759.8 921.1C762.8 908.1 766.1 889.7 767.4 883.5" stroke="#ed1c24" stroke-width="3.9" fill="none" stroke-dasharray="29 17.5" stroke-dashoffset="38"/><path d="M455.1 1205L637.6 1205L637.6 1205C637.8 1202.6 638.5 1195.3 638.9 1190.5C639.2 1185.7 639 1181.7 639.9 1176C640.8 1170.3 642.1 1162.5 644 1156.3C646 1150.2 648.7 1144.4 651.8 1139C655 1133.5 658.8 1129 662.7 1123.9C666.7 1118.8 671.7 1113.8 675.7 1108.2C679.7 1102.7 683 1097 686.6 1090.9C690.3 1084.7 694.4 1076.8 697.5 1071.2C700.7 1065.6 702.4 1063.4 705.6 1057.3C708.8 1051.1 713.1 1043.7 716.7 1034.1C720.4 1024.4 724 1011.7 727.6 999.3C731.3 987 735.3 972.7 738.5 959.9C741.8 947.2 744.6 935.6 747.1 922.9C749.7 910.1 752.7 890 753.9 883.5" stroke="#231f20" stroke-width="3.9" fill="none" stroke-linejoin="round"/><path d="M455.1 1205L637.6 1205L637.6 1205C637.8 1202.3 638.5 1194.1 638.9 1188.8C639.2 1183.5 638.8 1179.6 639.9 1173.1C641 1166.7 643 1156.7 645.3 1150C647.7 1143.2 650.3 1138.8 653.9 1132.6C657.5 1126.4 663.5 1118.7 667.2 1112.9C670.8 1107.1 672.5 1103.6 675.7 1097.8C679 1092 683.1 1085.2 686.6 1078.1C690.2 1071.1 693.8 1062.9 697 1055.5C700.2 1048.2 702.9 1042 705.8 1034.1C708.7 1026.2 711.2 1018.2 714.4 1008C717.6 997.9 722 984.6 725.3 973.3C728.6 962 731.6 950.4 734.1 940.2C736.7 930.1 738.6 921.9 740.6 912.4C742.6 903 745.2 888.3 746.1 883.5" stroke="#231f20" stroke-width="3.9" fill="none" stroke-dasharray="29 17.5" stroke-dashoffset="0"/></g>
<text x="481.6" y="956.5" font-family="Liberation Serif, serif" font-size="37.3" fill="#231f20" textLength="81" lengthAdjust="spacingAndGlyphs">LNN</text>
<text x="481.6" y="1002.9" font-family="Liberation Serif, serif" font-size="37.3" fill="#231f20" textLength="97.5" lengthAdjust="spacingAndGlyphs">6 kHz</text>
<path d="M129.3 1543.5l18.4 18.4M129.3 1561.9l18.4 -18.4M120.7 1514.5l18.4 18.4M120.7 1532.9l18.4 -18.4M126.4 1514.5l18.4 18.4M126.4 1532.9l18.4 -18.4M132.6 1514.5l18.4 18.4M132.6 1532.9l18.4 -18.4M184.8 1485.6l18.4 18.4M184.8 1504l18.4 -18.4M214.4 1398.6l18.4 18.4M214.4 1417l18.4 -18.4M217.5 1398.6l18.4 18.4M217.5 1417l18.4 -18.4M222.5 1398.6l18.4 18.4M222.5 1417l18.4 -18.4M279.3 1398.6l18.4 18.4M279.3 1417l18.4 -18.4M281.6 1340.7l18.4 18.4M281.6 1359.1l18.4 -18.4M320.8 1311.7l18.4 18.4M320.8 1330.1l18.4 -18.4M331.7 1282.7l18.4 18.4M331.7 1301.1l18.4 -18.4" stroke="#9496c9" stroke-width="3.5" fill="none"/>
<path d="M135.5 1543.5l18.4 18.4M135.5 1561.9l18.4 -18.4M142 1543.5l18.4 18.4M142 1561.9l18.4 -18.4M153.4 1514.5l18.4 18.4M153.4 1532.9l18.4 -18.4M186.1 1514.5l18.4 18.4M186.1 1532.9l18.4 -18.4M151.1 1485.6l18.4 18.4M151.1 1504l18.4 -18.4M188.2 1485.6l18.4 18.4M188.2 1504l18.4 -18.4M223 1485.6l18.4 18.4M223 1504l18.4 -18.4M183.5 1456.6l18.4 18.4M183.5 1475l18.4 -18.4M219.9 1427.6l18.4 18.4M219.9 1446l18.4 -18.4M253.4 1369.7l18.4 18.4M253.4 1388.1l18.4 -18.4M296.7 1340.7l18.4 18.4M296.7 1359.1l18.4 -18.4M292.6 1282.7l18.4 18.4M292.6 1301.1l18.4 -18.4" stroke="#f4979a" stroke-width="3.5" fill="none"/>
<path d="M92.7 1543.5l18.4 18.4M92.7 1561.9l18.4 -18.4M105.4 1543.5l18.4 18.4M105.4 1561.9l18.4 -18.4M118.4 1543.5l18.4 18.4M118.4 1561.9l18.4 -18.4M132.6 1514.5l18.4 18.4M132.6 1532.9l18.4 -18.4M172.9 1456.6l18.4 18.4M172.9 1475l18.4 -18.4M181.7 1456.6l18.4 18.4M181.7 1475l18.4 -18.4M212.1 1427.6l18.4 18.4M212.1 1446l18.4 -18.4M229.7 1398.6l18.4 18.4M229.7 1417l18.4 -18.4M235.4 1398.6l18.4 18.4M235.4 1417l18.4 -18.4M278.3 1369.7l18.4 18.4M278.3 1388.1l18.4 -18.4M273.9 1340.7l18.4 18.4M273.9 1359.1l18.4 -18.4M285.8 1311.7l18.4 18.4M285.8 1330.1l18.4 -18.4M320.8 1282.7l18.4 18.4M320.8 1301.1l18.4 -18.4M318.5 1253.7l18.4 18.4M318.5 1272.1l18.4 -18.4M342.7 1253.7l18.4 18.4M342.7 1272.1l18.4 -18.4" stroke="#a7a9ac" stroke-width="3.5" fill="none"/>
<path clip-path="url(#c30)" d="M114.6 1552.7L200.4 1465.8Q257.6 1407.8 298.3 1349.9L359.4 1262.9" stroke="#9496c9" stroke-width="8.0" fill="none" stroke-linejoin="round"/>
<path clip-path="url(#c30)" d="M138.5 1552.7L216.2 1465.8Q268 1407.8 287.6 1349.9L317.1 1262.9" stroke="#f4979a" stroke-width="8.0" fill="none" stroke-linejoin="round"/>
<path clip-path="url(#c30)" d="M123.4 1552.7L206.3 1465.8Q261.5 1407.8 292.1 1349.9L338.1 1262.9" stroke="#a7a9ac" stroke-width="8.0" fill="none" stroke-linejoin="round"/>
<g clip-path="url(#c30)"><path d="M147.8 1552.7L153.8 1552.7L153.8 1552.7C154.9 1547.9 158.1 1532.1 160.3 1523.7C162.5 1515.3 164.5 1508.1 167 1502.3C169.6 1496.5 171.6 1493.7 175.6 1489C179.6 1484.2 185.4 1478.4 190.9 1473.9C196.4 1469.4 202.5 1466.1 208.3 1461.7C214.1 1457.4 219.9 1452.7 225.7 1447.8C231.5 1443 237.1 1438.5 243.1 1432.8C249.1 1427.1 255.8 1420.1 261.5 1413.6C267.3 1407.2 271.3 1402.4 277.6 1393.9C283.9 1385.4 292.5 1373.4 299.4 1362.6C306.3 1351.9 313 1340.5 319.1 1329.6C325.3 1318.7 330.7 1308.3 336.5 1297.1C342.3 1285.9 348.5 1273.4 353.9 1262.4C359.4 1251.4 366.7 1236.3 369.2 1231.1" stroke="#2e4ea1" stroke-width="3.9" fill="none" stroke-linejoin="round"/><path d="M147.8 1552.7L153.8 1552.7L153.8 1552.7C154.9 1547.9 158.1 1532.1 160.3 1523.7C162.5 1515.3 164.5 1508.1 167 1502.3C169.6 1496.5 171.6 1493.7 175.6 1489C179.6 1484.2 185.4 1478.4 190.9 1473.9C196.4 1469.4 201.6 1465.9 208.3 1461.7C215 1457.6 223.3 1453.5 231.1 1449C239 1444.4 248.9 1439 255.3 1434.5C261.6 1430 263.8 1426.9 269.3 1421.7C274.8 1416.6 282.8 1408.9 288.5 1403.8C294.3 1398.7 298.2 1396.4 303.8 1391C309.5 1385.6 317 1377 322.3 1371.3C327.5 1365.6 330.4 1362.8 335.5 1356.8C340.6 1350.8 348 1341.4 352.9 1335.4C357.8 1329.4 360.1 1327.1 364.8 1320.9C369.5 1314.7 376.8 1305 381.2 1298.3C385.6 1291.6 387.6 1287.7 391.1 1280.9C394.5 1274.2 398.5 1264.8 402 1257.7C405.4 1250.7 409.6 1243 411.8 1238.6C414.1 1234.2 414.8 1232.3 415.5 1231.1" stroke="#2e4ea1" stroke-width="3.9" fill="none" stroke-dasharray="29 17.5" stroke-dashoffset="40.7"/><path d="M144.7 1552.7L150.7 1552.7L150.7 1552.7C151.4 1547.9 152.8 1532.1 154.8 1523.7C156.8 1515.3 159.5 1508.1 162.6 1502.3C165.7 1496.5 168.8 1493.5 173.5 1489C178.2 1484.4 185.1 1479.2 190.9 1475.1C196.7 1470.9 202.5 1468.3 208.3 1464.1C214.1 1459.8 219.8 1455.1 225.7 1449.6C231.5 1444.1 238.5 1436.8 243.3 1431C248.1 1425.2 250.5 1421.1 254.5 1414.8C258.5 1408.5 262.3 1402 267.5 1393.3C272.6 1384.7 279.7 1373.3 285.4 1362.6C291.1 1352 296.5 1340.5 301.8 1329.6C307 1318.7 311.7 1308.3 316.8 1297.1C321.9 1285.9 327.1 1273.4 332.1 1262.4C337.1 1251.4 344.2 1236.3 346.7 1231.1" stroke="#ed1c24" stroke-width="3.9" fill="none" stroke-linejoin="round"/><path d="M144.7 1552.7L150.7 1552.7L150.7 1552.7C151.4 1547.9 152.8 1532.1 154.8 1523.7C156.8 1515.3 159.5 1508.1 162.6 1502.3C165.7 1496.5 168.8 1493.5 173.5 1489C178.2 1484.4 185.4 1478.8 190.9 1475.1C196.4 1471.3 201.3 1468.8 206.2 1466.4C211.1 1464 215.2 1463.1 220.2 1460.6C225.3 1458.1 230.1 1455.3 236.6 1451.3C243.1 1447.3 253.2 1441.4 259.4 1436.8C265.6 1432.3 267.6 1429 273.7 1424.1C279.9 1419.1 290.5 1412.1 296.3 1407.3C302.1 1402.4 303 1400.5 308.2 1395.1C313.5 1389.7 322.3 1380.4 327.7 1374.8C333.2 1369.2 335.8 1367.4 340.9 1361.5C346.1 1355.6 353.6 1345.6 358.3 1339.4C363.1 1333.3 365.1 1330.7 369.2 1324.4C373.4 1318.1 379.3 1308.6 383.3 1301.8C387.2 1294.9 390 1290.2 393.1 1283.2C396.2 1276.3 399.4 1267.5 402 1260C404.5 1252.6 407 1243.4 408.4 1238.6C409.9 1233.8 410.4 1232.3 410.8 1231.1" stroke="#ed1c24" stroke-width="3.9" fill="none" stroke-dasharray="29 17.5" stroke-dashoffset="37.6"/><path d="M107 1552.7L149.4 1552.7L149.4 1552.7C149.8 1550 151 1541.3 151.7 1536.5C152.4 1531.7 152.4 1529.1 153.8 1523.7C155.2 1518.4 157.4 1510.7 160.3 1504.6C163.2 1498.5 166.8 1492.7 171.2 1487.2C175.5 1481.7 181 1476.3 186.5 1471.6C191.9 1466.9 198.1 1463.2 203.9 1458.8C209.7 1454.5 215.8 1449.9 221.3 1445.5C226.7 1441.2 231.5 1437.5 236.6 1432.8C241.7 1428 246.5 1423.7 251.9 1417.1C257.3 1410.5 262.9 1402.4 269 1393.3C275.1 1384.3 282.4 1373.3 288.5 1362.6C294.7 1352 300.5 1340.5 305.9 1329.6C311.4 1318.7 316.1 1308.3 321.2 1297.1C326.3 1285.9 331.6 1273.4 336.5 1262.4C341.5 1251.4 348.4 1236.3 350.8 1231.1" stroke="#231f20" stroke-width="3.9" fill="none" stroke-linejoin="round"/><path d="M107 1552.7L149.4 1552.7L149.4 1552.7C149.7 1549.9 150.7 1541 151.4 1535.9C152.1 1530.8 152.2 1527.6 153.5 1522C154.8 1516.4 155.9 1509.3 159.2 1502.3C162.6 1495.3 168.2 1486.1 173.5 1480.3C178.8 1474.5 184.8 1472.3 190.9 1467.5C197 1462.8 203.8 1456.6 210.4 1451.9C216.9 1447.1 223.5 1443.8 230.1 1439.1C236.7 1434.5 244 1428.7 249.8 1424.1C255.6 1419.4 259.2 1416.4 264.9 1411.3C270.6 1406.2 278.7 1398.8 284.1 1393.3C289.5 1387.9 292.2 1384.6 297.3 1378.9C302.4 1373.2 309.7 1364.9 314.7 1359.2C319.8 1353.4 323 1350.1 327.7 1344.1C332.4 1338.1 338.5 1329.4 343 1323.2C347.6 1317 350.6 1313.4 355 1307C359.3 1300.6 365 1291.5 369.2 1285C373.4 1278.4 376.5 1274.6 380.1 1267.6C383.8 1260.5 388.4 1248.7 391.1 1242.7C393.7 1236.6 395.4 1233 396.2 1231.1" stroke="#231f20" stroke-width="3.9" fill="none" stroke-dasharray="29 17.5" stroke-dashoffset="0"/></g>
<text x="133.6" y="1304.1" font-family="Liberation Serif, serif" font-size="37.3" fill="#231f20" textLength="66.5" lengthAdjust="spacingAndGlyphs">IFN</text>
<text x="133.6" y="1350.5" font-family="Liberation Serif, serif" font-size="37.3" fill="#231f20" textLength="88.5" lengthAdjust="spacingAndGlyphs">aided</text>
<path d="M575.7 1543.5l18.4 18.4M575.7 1561.9l18.4 -18.4M605 1514.5l18.4 18.4M605 1532.9l18.4 -18.4M645.2 1427.6l18.4 18.4M645.2 1446l18.4 -18.4M614.9 1398.6l18.4 18.4M614.9 1417l18.4 -18.4M658.2 1398.6l18.4 18.4M658.2 1417l18.4 -18.4M697.4 1369.7l18.4 18.4M697.4 1388.1l18.4 -18.4M670.2 1340.7l18.4 18.4M670.2 1359.1l18.4 -18.4M710.4 1282.7l18.4 18.4M710.4 1301.1l18.4 -18.4M723.4 1253.7l18.4 18.4M723.4 1272.1l18.4 -18.4" stroke="#9496c9" stroke-width="3.5" fill="none"/>
<path d="M523.2 1543.5l18.4 18.4M523.2 1561.9l18.4 -18.4M536.2 1514.5l18.4 18.4M536.2 1532.9l18.4 -18.4M544.5 1514.5l18.4 18.4M544.5 1532.9l18.4 -18.4M560.3 1514.5l18.4 18.4M560.3 1532.9l18.4 -18.4M590.7 1485.6l18.4 18.4M590.7 1504l18.4 -18.4M619 1485.6l18.4 18.4M619 1504l18.4 -18.4M597.2 1456.6l18.4 18.4M597.2 1475l18.4 -18.4M623.4 1427.6l18.4 18.4M623.4 1446l18.4 -18.4M654.1 1427.6l18.4 18.4M654.1 1446l18.4 -18.4M623.4 1398.6l18.4 18.4M623.4 1417l18.4 -18.4M632.3 1398.6l18.4 18.4M632.3 1417l18.4 -18.4M688.6 1398.6l18.4 18.4M688.6 1417l18.4 -18.4M686.5 1340.7l18.4 18.4M686.5 1359.1l18.4 -18.4" stroke="#f4979a" stroke-width="3.5" fill="none"/>
<path d="M560.3 1543.5l18.4 18.4M560.3 1561.9l18.4 -18.4M568.9 1543.5l18.4 18.4M568.9 1561.9l18.4 -18.4M577.7 1543.5l18.4 18.4M577.7 1561.9l18.4 -18.4M568.9 1514.5l18.4 18.4M568.9 1532.9l18.4 -18.4M575.7 1514.5l18.4 18.4M575.7 1532.9l18.4 -18.4M601.6 1456.6l18.4 18.4M601.6 1475l18.4 -18.4M640.6 1427.6l18.4 18.4M640.6 1446l18.4 -18.4M638 1398.6l18.4 18.4M638 1417l18.4 -18.4M641.9 1369.7l18.4 18.4M641.9 1388.1l18.4 -18.4M665.7 1311.7l18.4 18.4M665.7 1330.1l18.4 -18.4M689.6 1282.7l18.4 18.4M689.6 1301.1l18.4 -18.4M701.6 1253.7l18.4 18.4M701.6 1272.1l18.4 -18.4" stroke="#a7a9ac" stroke-width="3.5" fill="none"/>
<path clip-path="url(#c31)" d="M582.5 1552.7L634.5 1465.8Q669.2 1407.8 689.1 1349.9L718.8 1262.9" stroke="#9496c9" stroke-width="8.0" fill="none" stroke-linejoin="round"/>
<path clip-path="url(#c31)" d="M528 1552.7L615.1 1465.8Q673.1 1407.8 687.2 1349.9L708.4 1262.9" stroke="#f4979a" stroke-width="8.0" fill="none" stroke-linejoin="round"/>
<path clip-path="url(#c31)" d="M576 1552.7L626.5 1465.8Q660.1 1407.8 680.5 1349.9L711 1262.9" stroke="#a7a9ac" stroke-width="8.0" fill="none" stroke-linejoin="round"/>
<g clip-path="url(#c31)"><path d="M589.5 1552.7L595.5 1552.7L595.5 1552.7C596 1549.9 597.5 1541.1 598.4 1535.9C599.3 1530.7 599.6 1527.1 601 1521.4C602.3 1515.7 603.7 1507.3 606.4 1501.7C609.1 1496.1 612.1 1492.6 617.3 1487.8C622.5 1483 630.8 1478.2 637.7 1472.7C644.6 1467.3 652.3 1462.4 658.5 1455.4C664.8 1448.3 671.1 1437.5 675.2 1430.4C679.2 1423.4 680 1418.9 682.7 1413.1C685.4 1407.2 688.4 1401.7 691.3 1395.1C694.2 1388.5 697.2 1380.5 700.1 1373.6C703 1366.8 706 1361.3 708.7 1353.9C711.4 1346.6 713.9 1336.8 716.5 1329.6C719 1322.4 721.7 1318 724 1310.5C726.3 1302.9 728.1 1291.7 730.5 1284.4C732.9 1277 736 1274.1 738.3 1266.4C740.5 1258.8 742.8 1244.5 744 1238.6C745.2 1232.7 745.3 1232.3 745.6 1231.1" stroke="#2e4ea1" stroke-width="3.9" fill="none" stroke-dasharray="29 17.5" stroke-dashoffset="41.4"/><path d="M592.9 1552.7L598.9 1552.7L598.9 1552.7C599.8 1547.9 602.3 1531.5 604.3 1523.7C606.3 1516 607.9 1511 610.8 1506.4C613.7 1501.7 617.4 1499.3 621.7 1495.9C626.1 1492.5 631.9 1489.6 637 1486.1C642.1 1482.6 647.6 1478.9 652.4 1475.1C657.1 1471.2 661.4 1468.2 665.3 1462.9C669.3 1457.6 673 1450.4 676.2 1443.2C679.5 1435.9 682.8 1426.3 685.1 1419.4C687.3 1412.6 688.2 1407.5 689.7 1402C691.3 1396.5 692 1394 694.4 1386.4C696.8 1378.8 701.2 1367.5 704.3 1356.3C707.4 1345.1 710.2 1332.3 713.1 1319.2C716 1306 718.9 1292.1 721.7 1277.4C724.5 1262.8 728.6 1238.8 730 1231.1" stroke="#ed1c24" stroke-width="3.9" fill="none" stroke-linejoin="round"/><path d="M592.9 1552.7L598.9 1552.7L598.9 1552.7C599.8 1547.9 602.3 1531.5 604.3 1523.7C606.3 1516 607.9 1511 610.8 1506.4C613.7 1501.7 617.4 1499.3 621.7 1495.9C626.1 1492.5 631.9 1489.6 637 1486.1C642.1 1482.6 647.6 1478.9 652.4 1475.1C657.1 1471.2 661.4 1467.2 665.3 1462.9C669.3 1458.5 672 1455 676.2 1449C680.4 1443 686.4 1433.7 690.5 1427C694.7 1420.2 697.4 1415.2 701.2 1408.4C704.9 1401.7 709.7 1393 713.1 1386.4C716.5 1379.8 718.4 1376.1 721.7 1369C724.9 1362 729.6 1351.3 732.6 1344.1C735.5 1336.8 736.9 1333 739.3 1325.5C741.7 1318.1 744.7 1306.9 746.9 1299.5C749 1292 750.3 1288.2 752.3 1280.9C754.3 1273.7 756.8 1263.8 758.8 1256C760.8 1248.2 763.2 1238.1 764.2 1234C765.3 1229.8 764.9 1231.6 765 1231.1" stroke="#ed1c24" stroke-width="3.9" fill="none" stroke-dasharray="29 17.5" stroke-dashoffset="44.8"/><path d="M455.1 1552.7L595.5 1552.7L595.5 1552.7C596 1550.1 597.5 1541.9 598.4 1537.1C599.3 1532.2 599.6 1529.2 601 1523.7C602.3 1518.3 604 1510 606.4 1504.6C608.8 1499.2 611.6 1495.3 615.2 1491.3C618.9 1487.2 623.5 1483.9 628.2 1480.3C632.9 1476.6 638.8 1473.2 643.5 1469.3C648.3 1465.3 652.8 1461.5 656.8 1456.5C660.7 1451.5 664.2 1445.3 667.4 1439.1C670.7 1432.9 673.7 1425.4 676.2 1419.4C678.7 1413.4 680.3 1408.9 682.5 1403.2C684.6 1397.5 686.3 1393.8 689.2 1385.2C692.1 1376.6 696.6 1363.4 699.9 1351.6C703.1 1339.8 705.7 1328 708.7 1314.5C711.6 1301.1 714.9 1285 717.5 1271.1C720.2 1257.2 723.4 1237.7 724.5 1231.1" stroke="#231f20" stroke-width="3.9" fill="none" stroke-linejoin="round"/><path d="M455.1 1552.7L595.5 1552.7L595.5 1552.7C596 1549.9 597.5 1541.1 598.4 1535.9C599.3 1530.7 599.6 1527.1 601 1521.4C602.3 1515.7 603.7 1507.3 606.4 1501.7C609.1 1496.1 612.2 1492.6 617.3 1487.8C622.4 1483 630.5 1478.2 637 1472.7C643.6 1467.3 651 1462.4 656.8 1455.4C662.6 1448.3 668.2 1437.5 671.8 1430.4C675.4 1423.4 675.8 1418.9 678.3 1413.1C680.8 1407.2 684 1401.7 686.9 1395.1C689.8 1388.5 692.8 1380.5 695.7 1373.6C698.6 1366.8 701.6 1361.3 704.3 1353.9C707 1346.6 709.5 1336.8 712.1 1329.6C714.6 1322.4 717.3 1318 719.6 1310.5C721.9 1302.9 723.7 1291.7 726.1 1284.4C728.5 1277 731.6 1274.1 733.9 1266.4C736.1 1258.8 738.4 1244.5 739.6 1238.6C740.8 1232.7 740.9 1232.3 741.1 1231.1" stroke="#231f20" stroke-width="3.9" fill="none" stroke-dasharray="29 17.5" stroke-dashoffset="0"/></g>
<text x="481.6" y="1330.5" font-family="Liberation Serif, serif" font-size="37.3" fill="#231f20" textLength="66.5" lengthAdjust="spacingAndGlyphs">IFN</text>
<path d="M93.7 1893.6l18.4 18.4M93.7 1912l18.4 -18.4M105.4 1893.6l18.4 18.4M105.4 1912l18.4 -18.4M117.1 1893.6l18.4 18.4M117.1 1912l18.4 -18.4M129.3 1893.6l18.4 18.4M129.3 1912l18.4 -18.4M137.3 1864.4l18.4 18.4M137.3 1882.8l18.4 -18.4M175.2 1806.1l18.4 18.4M175.2 1824.5l18.4 -18.4M186.1 1806.1l18.4 18.4M186.1 1824.5l18.4 -18.4M183.8 1776.9l18.4 18.4M183.8 1795.3l18.4 -18.4M214.4 1776.9l18.4 18.4M214.4 1795.3l18.4 -18.4M231.8 1776.9l18.4 18.4M231.8 1795.3l18.4 -18.4M225.3 1747.7l18.4 18.4M225.3 1766.1l18.4 -18.4M233.9 1747.7l18.4 18.4M233.9 1766.1l18.4 -18.4M275.4 1747.7l18.4 18.4M275.4 1766.1l18.4 -18.4M251.5 1718.5l18.4 18.4M251.5 1736.9l18.4 -18.4M273.1 1718.5l18.4 18.4M273.1 1736.9l18.4 -18.4M273.1 1689.3l18.4 18.4M273.1 1707.7l18.4 -18.4M290.7 1660.1l18.4 18.4M290.7 1678.5l18.4 -18.4M316.7 1630.9l18.4 18.4M316.7 1649.3l18.4 -18.4M319 1601.7l18.4 18.4M319 1620.1l18.4 -18.4M342.9 1601.7l18.4 18.4M342.9 1620.1l18.4 -18.4" stroke="#a7a9ac" stroke-width="3.5" fill="none"/>
<path clip-path="url(#c40)" d="M132 1902.8L201.1 1815.3Q247.2 1756.9 283.1 1698.5L336.8 1610.9" stroke="#a7a9ac" stroke-width="8.0" fill="none" stroke-linejoin="round"/>
<g clip-path="url(#c40)"><path d="M107 1902.8L148.6 1902.8L148.6 1902.8C149.5 1898.7 151.8 1887.5 153.8 1878.3C155.7 1869.2 158.1 1854.9 160.3 1848C162.5 1841 163.4 1840.8 167 1836.9C170.7 1832.9 175.2 1829.1 182.1 1824C189 1819 200.3 1812.7 208.3 1806.5C216.3 1800.3 222.8 1793.9 230.1 1786.6C237.4 1779.3 243.9 1772.1 251.9 1762.7C259.9 1753.3 270.1 1740.9 278.1 1730C286.1 1719.1 292.7 1708.5 299.9 1697.3C307.2 1686.1 315.2 1674.1 321.7 1662.9C328.3 1651.7 334.1 1640.4 339.1 1630.2C344.2 1619.9 348.3 1610.1 352.1 1601.6C355.9 1593 360.3 1582.6 362 1578.8" stroke="#231f20" stroke-width="3.9" fill="none" stroke-linejoin="round"/><path d="M107 1902.8L148.6 1902.8L148.6 1902.8C149.5 1898.7 151.8 1887.5 153.8 1878.3C155.7 1869.2 158.1 1855.2 160.3 1848C162.5 1840.7 163.7 1838.9 167 1834.5C170.3 1830.1 174.5 1826 180 1821.7C185.4 1817.4 191.7 1813.9 199.7 1808.8C207.7 1803.8 221.1 1796.1 228 1791.3C234.9 1786.5 235.9 1784.6 241 1780.2C246.1 1775.8 251.5 1770.9 258.4 1765C265.3 1759.2 275.4 1751.3 282.3 1745.2C289.2 1739.1 294.5 1734 299.9 1728.3C305.4 1722.5 309.9 1717 315 1710.7C320.1 1704.5 325.9 1696.7 330.3 1690.9C334.7 1685 337.2 1681.5 341.2 1675.7C345.2 1669.9 349.7 1663.2 354.4 1655.9C359.2 1648.6 365.2 1639.1 369.5 1631.9C373.8 1624.7 376.8 1619.2 380.4 1612.6C384 1606.1 388.2 1598.4 391.3 1592.8C394.4 1587.1 397.8 1581.1 399.1 1578.8" stroke="#231f20" stroke-width="3.9" fill="none" stroke-dasharray="29 17.5" stroke-dashoffset="0"/></g>
<text x="133.6" y="1628.7" font-family="Liberation Serif, serif" font-size="37.3" fill="#231f20" textLength="66.5" lengthAdjust="spacingAndGlyphs">IFN</text>
<text x="133.6" y="1675.1" font-family="Liberation Serif, serif" font-size="37.3" fill="#231f20" textLength="119" lengthAdjust="spacingAndGlyphs">60° left</text>
<text x="133.6" y="1721.5" font-family="Liberation Serif, serif" font-size="37.3" fill="#231f20" textLength="88.5" lengthAdjust="spacingAndGlyphs">aided</text>
<path d="M520.9 1893.6l18.4 18.4M520.9 1912l18.4 -18.4M529.5 1893.6l18.4 18.4M529.5 1912l18.4 -18.4M542.7 1893.6l18.4 18.4M542.7 1912l18.4 -18.4M551.3 1893.6l18.4 18.4M551.3 1912l18.4 -18.4M562.2 1864.4l18.4 18.4M562.2 1882.8l18.4 -18.4M592.8 1806.1l18.4 18.4M592.8 1824.5l18.4 -18.4M597.7 1806.1l18.4 18.4M597.7 1824.5l18.4 -18.4M603.7 1806.1l18.4 18.4M603.7 1824.5l18.4 -18.4M627.6 1776.9l18.4 18.4M627.6 1795.3l18.4 -18.4M625.5 1747.7l18.4 18.4M625.5 1766.1l18.4 -18.4M660.3 1747.7l18.4 18.4M660.3 1766.1l18.4 -18.4M639.8 1718.5l18.4 18.4M639.8 1736.9l18.4 -18.4M658 1718.5l18.4 18.4M658 1736.9l18.4 -18.4M664.7 1689.3l18.4 18.4M664.7 1707.7l18.4 -18.4M688.6 1660.1l18.4 18.4M688.6 1678.5l18.4 -18.4M690.7 1630.9l18.4 18.4M690.7 1649.3l18.4 -18.4M703.9 1601.7l18.4 18.4M703.9 1620.1l18.4 -18.4" stroke="#a7a9ac" stroke-width="3.5" fill="none"/>
<path clip-path="url(#c41)" d="M551.9 1902.8L609.1 1815.3Q647.2 1756.9 675.6 1698.5L718.3 1610.9" stroke="#a7a9ac" stroke-width="8.0" fill="none" stroke-linejoin="round"/>
<g clip-path="url(#c41)"><path d="M455.1 1902.8L589.8 1902.8L589.8 1902.8C590.3 1899.9 591.7 1890.9 592.6 1885.3C593.6 1879.8 593.3 1875.8 595.2 1869.6C597.1 1863.3 600 1853.8 604.1 1848C608.1 1842.1 613.9 1838.9 619.4 1834.5C624.8 1830.1 631.3 1826.7 636.8 1821.7C642.2 1816.6 647.7 1810.7 652.1 1804.2C656.5 1797.6 659.4 1790.9 663 1782.6C666.6 1774.2 670.3 1764.8 673.9 1753.9C677.5 1743 681.2 1730.6 684.8 1717.2C688.4 1703.7 692.1 1688.6 695.7 1673.4C699.3 1658.1 703.1 1641.3 706.6 1625.5C710.1 1609.7 715 1586.6 716.7 1578.8" stroke="#231f20" stroke-width="3.9" fill="none" stroke-linejoin="round"/><path d="M455.1 1902.8L589.8 1902.8L589.8 1902.8C590.3 1899.9 591.7 1890.9 592.6 1885.3C593.6 1879.8 593.3 1875.8 595.2 1869.6C597.1 1863.3 600 1853.8 604.1 1848C608.1 1842.1 613.9 1838.9 619.4 1834.5C624.8 1830.1 631.3 1826.7 636.8 1821.7C642.2 1816.6 647.6 1810.3 652.1 1804.2C656.6 1798 659.9 1791.8 663.5 1784.9C667.2 1778 670.6 1770.1 673.9 1762.7C677.2 1755.3 680.5 1747.9 683.5 1740.5C686.5 1733.1 689.3 1726 692.1 1718.3C694.9 1710.6 697.7 1702.5 700.4 1694.4C703.1 1686.3 705.6 1678.2 708.2 1669.9C710.8 1661.5 713.3 1652.7 716 1644.2C718.6 1635.6 721.4 1627.3 724 1618.5C726.6 1609.6 729.9 1597.7 731.8 1591C733.7 1584.4 734.6 1580.8 735.2 1578.8" stroke="#231f20" stroke-width="3.9" fill="none" stroke-dasharray="29 17.5" stroke-dashoffset="0"/></g>
<text x="481.6" y="1651.8" font-family="Liberation Serif, serif" font-size="37.3" fill="#231f20" textLength="66.5" lengthAdjust="spacingAndGlyphs">IFN</text>
<text x="481.6" y="1698.2" font-family="Liberation Serif, serif" font-size="37.3" fill="#231f20" textLength="119" lengthAdjust="spacingAndGlyphs">60° left</text>
<path d="M93.7 2241.5l18.4 18.4M93.7 2259.9l18.4 -18.4M105.4 2241.5l18.4 18.4M105.4 2259.9l18.4 -18.4M117.1 2241.5l18.4 18.4M117.1 2259.9l18.4 -18.4M127.2 2241.5l18.4 18.4M127.2 2259.9l18.4 -18.4M127.2 2212.6l18.4 18.4M127.2 2231l18.4 -18.4M132.6 2212.6l18.4 18.4M132.6 2231l18.4 -18.4M138.1 2212.6l18.4 18.4M138.1 2231l18.4 -18.4M168.7 2154.6l18.4 18.4M168.7 2173l18.4 -18.4M175.7 2125.6l18.4 18.4M175.7 2144l18.4 -18.4M178.8 2125.6l18.4 18.4M178.8 2144l18.4 -18.4M212.1 2125.6l18.4 18.4M212.1 2144l18.4 -18.4M210 2096.7l18.4 18.4M210 2115.1l18.4 -18.4M214.7 2096.7l18.4 18.4M214.7 2115.1l18.4 -18.4M220.9 2096.7l18.4 18.4M220.9 2115.1l18.4 -18.4M249.2 2067.7l18.4 18.4M249.2 2086.1l18.4 -18.4M251.8 2038.7l18.4 18.4M251.8 2057.1l18.4 -18.4M255.4 2038.7l18.4 18.4M255.4 2057.1l18.4 -18.4M294.9 2009.7l18.4 18.4M294.9 2028.1l18.4 -18.4M290.7 1980.8l18.4 18.4M290.7 1999.2l18.4 -18.4M316.7 1951.8l18.4 18.4M316.7 1970.2l18.4 -18.4" stroke="#a7a9ac" stroke-width="3.5" fill="none"/>
<path clip-path="url(#c50)" d="M127.6 2250.7L187.7 2163.8Q227.8 2105.9 265.7 2047.9L322.5 1961" stroke="#a7a9ac" stroke-width="8.0" fill="none" stroke-linejoin="round"/>
<g clip-path="url(#c50)"><path d="M107 2250.7L142.9 2250.7L142.9 2250.7C143.7 2245.9 145.9 2230.2 148.1 2221.8C150.3 2213.4 153 2206.1 156.1 2200.3C159.3 2194.5 162 2191.7 167 2187C172.1 2182.3 178.9 2177.3 186.5 2171.9C194.1 2166.5 203.6 2163.2 212.7 2154.5C221.8 2145.8 231.6 2132.1 241 2119.8C250.4 2107.4 260.9 2093.1 269.3 2080.4C277.7 2067.6 284.2 2056 291.1 2043.3C298 2030.5 304.6 2016.9 310.8 2003.9C317 1990.8 322.7 1977.8 328.2 1965.1C333.8 1952.3 341.4 1933.7 344.1 1927.4" stroke="#231f20" stroke-width="3.9" fill="none" stroke-linejoin="round"/><path d="M107 2250.7L142.9 2250.7L142.9 2250.7C143.7 2245.7 145.6 2229.8 148.1 2220.6C150.5 2211.4 154.6 2201.6 157.4 2195.7C160.2 2189.8 160.6 2188.8 164.7 2185.2C168.8 2181.7 173.3 2179.7 182.1 2174.2C190.8 2168.7 208.8 2157.7 217.1 2152.2C225.5 2146.7 226.7 2145.2 232.2 2141.2C237.6 2137.3 244.4 2133.2 249.8 2128.5C255.3 2123.7 259.5 2117.9 264.9 2112.8C270.3 2107.7 276.4 2103.2 282.3 2097.8C288.1 2092.3 294.5 2086.2 299.9 2080.4C305.4 2074.6 309.9 2069.2 315 2063C320.1 2056.8 325.5 2049.5 330.3 2043.3C335.1 2037.1 339.2 2032.1 343.5 2025.9C347.9 2019.7 352.2 2013.4 356.5 2006.2C360.9 1999 365.5 1990.1 369.5 1982.4C373.5 1974.8 376.8 1967.7 380.4 1960.4C384 1953.2 388.8 1944.2 391.3 1939C393.9 1933.8 395 1930.8 395.7 1929.1" stroke="#231f20" stroke-width="3.9" fill="none" stroke-dasharray="29 17.5" stroke-dashoffset="0"/></g>
<text x="133.6" y="1979" font-family="Liberation Serif, serif" font-size="37.3" fill="#231f20" textLength="66.5" lengthAdjust="spacingAndGlyphs">IFN</text>
<text x="133.6" y="2025.4" font-family="Liberation Serif, serif" font-size="37.3" fill="#231f20" textLength="145" lengthAdjust="spacingAndGlyphs">60° right</text>
<text x="133.6" y="2071.8" font-family="Liberation Serif, serif" font-size="37.3" fill="#231f20" textLength="88.5" lengthAdjust="spacingAndGlyphs">aided</text>
<path d="M520.9 2241.5l18.4 18.4M520.9 2259.9l18.4 -18.4M529.5 2241.5l18.4 18.4M529.5 2259.9l18.4 -18.4M542.7 2241.5l18.4 18.4M542.7 2259.9l18.4 -18.4M551.3 2241.5l18.4 18.4M551.3 2259.9l18.4 -18.4M562.2 2212.6l18.4 18.4M562.2 2231l18.4 -18.4M566.6 2212.6l18.4 18.4M566.6 2231l18.4 -18.4M573.1 2212.6l18.4 18.4M573.1 2231l18.4 -18.4M590.5 2212.6l18.4 18.4M590.5 2231l18.4 -18.4M592.8 2183.6l18.4 18.4M592.8 2202l18.4 -18.4M590.5 2154.6l18.4 18.4M590.5 2173l18.4 -18.4M601.4 2154.6l18.4 18.4M601.4 2173l18.4 -18.4M614.6 2154.6l18.4 18.4M614.6 2173l18.4 -18.4M616.7 2125.6l18.4 18.4M616.7 2144l18.4 -18.4M618.8 2096.7l18.4 18.4M618.8 2115.1l18.4 -18.4M642.9 2096.7l18.4 18.4M642.9 2115.1l18.4 -18.4M649.4 2067.7l18.4 18.4M649.4 2086.1l18.4 -18.4M640.6 2038.7l18.4 18.4M640.6 2057.1l18.4 -18.4M636.7 2038.7l18.4 18.4M636.7 2057.1l18.4 -18.4M666.8 2038.7l18.4 18.4M666.8 2057.1l18.4 -18.4M664.7 2009.7l18.4 18.4M664.7 2028.1l18.4 -18.4M666 1980.8l18.4 18.4M666 1999.2l18.4 -18.4M692 1951.8l18.4 18.4M692 1970.2l18.4 -18.4" stroke="#a7a9ac" stroke-width="3.5" fill="none"/>
<path clip-path="url(#c51)" d="M554 2250.7L607.5 2163.8Q643.3 2105.9 660 2047.9L685.1 1961" stroke="#a7a9ac" stroke-width="8.0" fill="none" stroke-linejoin="round"/>
<g clip-path="url(#c51)"><path d="M455.1 2250.7L589.8 2250.7L589.8 2250.7C590.3 2248.6 591.7 2242 592.6 2238C593.6 2233.9 593.7 2232.3 595.2 2226.4C596.8 2220.5 599.1 2208.8 602 2202.6C604.9 2196.5 607.8 2193.4 612.9 2189.3C618 2185.2 625.8 2183 632.4 2178.3C638.9 2173.6 646.6 2167.4 652.1 2160.9C657.5 2154.4 660.7 2148.2 665.1 2139.5C669.4 2130.8 674.1 2120.4 678.1 2108.8C682 2097.1 685.3 2083.2 689 2069.4C692.6 2055.5 696.2 2041.2 699.9 2025.9C703.5 2010.6 707.1 1993.9 710.8 1977.8C714.4 1961.7 720.1 1937.2 721.9 1929.1" stroke="#231f20" stroke-width="3.9" fill="none" stroke-linejoin="round"/><path d="M455.1 2250.7L589.8 2250.7L589.8 2250.7C590.3 2248.6 591.7 2242 592.6 2238C593.6 2233.9 593.7 2232.3 595.2 2226.4C596.8 2220.5 599.1 2208.8 602 2202.6C604.9 2196.5 607.8 2193.4 612.9 2189.3C618 2185.2 628.4 2181.2 632.4 2178.3C636.3 2175.4 632.4 2176.7 636.8 2171.9C641.1 2167.2 652.8 2157.9 658.6 2149.9C664.4 2141.9 667.6 2132.1 671.6 2123.8C675.5 2115.5 679.2 2108.1 682.5 2100.1C685.8 2092.1 688.4 2084.4 691.3 2075.7C694.2 2067 697 2056.6 699.9 2047.9C702.8 2039.2 705.7 2032.4 708.7 2023.6C711.6 2014.8 714.6 2003.5 717.5 1995.2C720.4 1986.9 723.2 1981 726.1 1973.8C729 1966.5 732.4 1958.3 734.9 1951.7C737.5 1945.2 740 1938.1 741.4 1934.3C742.8 1930.6 742.9 1930 743.2 1929.1" stroke="#231f20" stroke-width="3.9" fill="none" stroke-dasharray="29 17.5" stroke-dashoffset="0"/></g>
<text x="481.6" y="2002.1" font-family="Liberation Serif, serif" font-size="37.3" fill="#231f20" textLength="66.5" lengthAdjust="spacingAndGlyphs">IFN</text>
<text x="481.6" y="2048.5" font-family="Liberation Serif, serif" font-size="37.3" fill="#231f20" textLength="145" lengthAdjust="spacingAndGlyphs">60° right</text>
<rect x="107" y="188.1" width="348" height="347.8" fill="none" stroke="#4d4e52" stroke-width="1.9"/><path d="M133 535.9v-4.6M133 188.1v4.6M197.9 535.9v-4.6M197.9 188.1v4.6M262.8 535.9v-4.6M262.8 188.1v4.6M327.7 535.9v-4.6M327.7 188.1v4.6M392.6 535.9v-4.6M392.6 188.1v4.6M107 506.9h4.6M455.1 506.9h-4.6M107 448.9h4.6M455.1 448.9h-4.6M107 391h4.6M455.1 391h-4.6M107 333h4.6M455.1 333h-4.6M107 275h4.6M455.1 275h-4.6M107 217h4.6M455.1 217h-4.6" stroke="#4d4e52" stroke-width="1.7" fill="none"/><rect x="455.1" y="188.1" width="347.7" height="347.8" fill="none" stroke="#4d4e52" stroke-width="1.9"/><path d="M481 535.9v-4.6M481 188.1v4.6M545.9 535.9v-4.6M545.9 188.1v4.6M610.8 535.9v-4.6M610.8 188.1v4.6M675.7 535.9v-4.6M675.7 188.1v4.6M740.6 535.9v-4.6M740.6 188.1v4.6M455.1 506.9h4.6M802.8 506.9h-4.6M455.1 448.9h4.6M802.8 448.9h-4.6M455.1 391h4.6M802.8 391h-4.6M455.1 333h4.6M802.8 333h-4.6M455.1 275h4.6M802.8 275h-4.6M455.1 217h4.6M802.8 217h-4.6" stroke="#4d4e52" stroke-width="1.7" fill="none"/><rect x="107" y="535.9" width="348" height="350.5" fill="none" stroke="#4d4e52" stroke-width="1.9"/><path d="M133 886.4v-4.6M133 535.9v4.6M197.9 886.4v-4.6M197.9 535.9v4.6M262.8 886.4v-4.6M262.8 535.9v4.6M327.7 886.4v-4.6M327.7 535.9v4.6M392.6 886.4v-4.6M392.6 535.9v4.6M107 857.1h4.6M455.1 857.1h-4.6M107 798.7h4.6M455.1 798.7h-4.6M107 740.3h4.6M455.1 740.3h-4.6M107 681.9h4.6M455.1 681.9h-4.6M107 623.5h4.6M455.1 623.5h-4.6M107 565.1h4.6M455.1 565.1h-4.6" stroke="#4d4e52" stroke-width="1.7" fill="none"/><rect x="455.1" y="535.9" width="347.7" height="350.5" fill="none" stroke="#4d4e52" stroke-width="1.9"/><path d="M481 886.4v-4.6M481 535.9v4.6M545.9 886.4v-4.6M545.9 535.9v4.6M610.8 886.4v-4.6M610.8 535.9v4.6M675.7 886.4v-4.6M675.7 535.9v4.6M740.6 886.4v-4.6M740.6 535.9v4.6M455.1 857.1h4.6M802.8 857.1h-4.6M455.1 798.7h4.6M802.8 798.7h-4.6M455.1 740.3h4.6M802.8 740.3h-4.6M455.1 681.9h4.6M802.8 681.9h-4.6M455.1 623.5h4.6M802.8 623.5h-4.6M455.1 565.1h4.6M802.8 565.1h-4.6" stroke="#4d4e52" stroke-width="1.7" fill="none"/><rect x="107" y="886.4" width="348" height="347.6" fill="none" stroke="#4d4e52" stroke-width="1.9"/><path d="M133 1234v-4.6M133 886.4v4.6M197.9 1234v-4.6M197.9 886.4v4.6M262.8 1234v-4.6M262.8 886.4v4.6M327.7 1234v-4.6M327.7 886.4v4.6M392.6 1234v-4.6M392.6 886.4v4.6M107 1205h4.6M455.1 1205h-4.6M107 1147.1h4.6M455.1 1147.1h-4.6M107 1089.1h4.6M455.1 1089.1h-4.6M107 1031.2h4.6M455.1 1031.2h-4.6M107 973.3h4.6M455.1 973.3h-4.6M107 915.3h4.6M455.1 915.3h-4.6" stroke="#4d4e52" stroke-width="1.7" fill="none"/><rect x="455.1" y="886.4" width="347.7" height="347.6" fill="none" stroke="#4d4e52" stroke-width="1.9"/><path d="M481 1234v-4.6M481 886.4v4.6M545.9 1234v-4.6M545.9 886.4v4.6M610.8 1234v-4.6M610.8 886.4v4.6M675.7 1234v-4.6M675.7 886.4v4.6M740.6 1234v-4.6M740.6 886.4v4.6M455.1 1205h4.6M802.8 1205h-4.6M455.1 1147.1h4.6M802.8 1147.1h-4.6M455.1 1089.1h4.6M802.8 1089.1h-4.6M455.1 1031.2h4.6M802.8 1031.2h-4.6M455.1 973.3h4.6M802.8 973.3h-4.6M455.1 915.3h4.6M802.8 915.3h-4.6" stroke="#4d4e52" stroke-width="1.7" fill="none"/><rect x="107" y="1234" width="348" height="347.7" fill="none" stroke="#4d4e52" stroke-width="1.9"/><path d="M133 1581.7v-4.6M133 1234v4.6M197.9 1581.7v-4.6M197.9 1234v4.6M262.8 1581.7v-4.6M262.8 1234v4.6M327.7 1581.7v-4.6M327.7 1234v4.6M392.6 1581.7v-4.6M392.6 1234v4.6M107 1552.7h4.6M455.1 1552.7h-4.6M107 1494.8h4.6M455.1 1494.8h-4.6M107 1436.8h4.6M455.1 1436.8h-4.6M107 1378.9h4.6M455.1 1378.9h-4.6M107 1320.9h4.6M455.1 1320.9h-4.6M107 1262.9h4.6M455.1 1262.9h-4.6" stroke="#4d4e52" stroke-width="1.7" fill="none"/><rect x="455.1" y="1234" width="347.7" height="347.7" fill="none" stroke="#4d4e52" stroke-width="1.9"/><path d="M481 1581.7v-4.6M481 1234v4.6M545.9 1581.7v-4.6M545.9 1234v4.6M610.8 1581.7v-4.6M610.8 1234v4.6M675.7 1581.7v-4.6M675.7 1234v4.6M740.6 1581.7v-4.6M740.6 1234v4.6M455.1 1552.7h4.6M802.8 1552.7h-4.6M455.1 1494.8h4.6M802.8 1494.8h-4.6M455.1 1436.8h4.6M802.8 1436.8h-4.6M455.1 1378.9h4.6M802.8 1378.9h-4.6M455.1 1320.9h4.6M802.8 1320.9h-4.6M455.1 1262.9h4.6M802.8 1262.9h-4.6" stroke="#4d4e52" stroke-width="1.7" fill="none"/><rect x="107" y="1581.7" width="348" height="350.3" fill="none" stroke="#4d4e52" stroke-width="1.9"/><path d="M133 1932v-4.6M133 1581.7v4.6M197.9 1932v-4.6M197.9 1581.7v4.6M262.8 1932v-4.6M262.8 1581.7v4.6M327.7 1932v-4.6M327.7 1581.7v4.6M392.6 1932v-4.6M392.6 1581.7v4.6M107 1902.8h4.6M455.1 1902.8h-4.6M107 1844.4h4.6M455.1 1844.4h-4.6M107 1786.1h4.6M455.1 1786.1h-4.6M107 1727.7h4.6M455.1 1727.7h-4.6M107 1669.3h4.6M455.1 1669.3h-4.6M107 1610.9h4.6M455.1 1610.9h-4.6" stroke="#4d4e52" stroke-width="1.7" fill="none"/><rect x="455.1" y="1581.7" width="347.7" height="350.3" fill="none" stroke="#4d4e52" stroke-width="1.9"/><path d="M481 1932v-4.6M481 1581.7v4.6M545.9 1932v-4.6M545.9 1581.7v4.6M610.8 1932v-4.6M610.8 1581.7v4.6M675.7 1932v-4.6M675.7 1581.7v4.6M740.6 1932v-4.6M740.6 1581.7v4.6M455.1 1902.8h4.6M802.8 1902.8h-4.6M455.1 1844.4h4.6M802.8 1844.4h-4.6M455.1 1786.1h4.6M802.8 1786.1h-4.6M455.1 1727.7h4.6M802.8 1727.7h-4.6M455.1 1669.3h4.6M802.8 1669.3h-4.6M455.1 1610.9h4.6M802.8 1610.9h-4.6" stroke="#4d4e52" stroke-width="1.7" fill="none"/><rect x="107" y="1932" width="348" height="347.7" fill="none" stroke="#4d4e52" stroke-width="1.9"/><path d="M133 2279.7v-4.6M133 1932v4.6M197.9 2279.7v-4.6M197.9 1932v4.6M262.8 2279.7v-4.6M262.8 1932v4.6M327.7 2279.7v-4.6M327.7 1932v4.6M392.6 2279.7v-4.6M392.6 1932v4.6M107 2250.7h4.6M455.1 2250.7h-4.6M107 2192.8h4.6M455.1 2192.8h-4.6M107 2134.8h4.6M455.1 2134.8h-4.6M107 2076.9h4.6M455.1 2076.9h-4.6M107 2018.9h4.6M455.1 2018.9h-4.6M107 1961h4.6M455.1 1961h-4.6" stroke="#4d4e52" stroke-width="1.7" fill="none"/><rect x="455.1" y="1932" width="347.7" height="347.7" fill="none" stroke="#4d4e52" stroke-width="1.9"/><path d="M481 2279.7v-4.6M481 1932v4.6M545.9 2279.7v-4.6M545.9 1932v4.6M610.8 2279.7v-4.6M610.8 1932v4.6M675.7 2279.7v-4.6M675.7 1932v4.6M740.6 2279.7v-4.6M740.6 1932v4.6M455.1 2250.7h4.6M802.8 2250.7h-4.6M455.1 2192.8h4.6M802.8 2192.8h-4.6M455.1 2134.8h4.6M802.8 2134.8h-4.6M455.1 2076.9h4.6M802.8 2076.9h-4.6M455.1 2018.9h4.6M802.8 2018.9h-4.6M455.1 1961h4.6M802.8 1961h-4.6" stroke="#4d4e52" stroke-width="1.7" fill="none"/>
<g font-family="Liberation Serif, serif" font-size="40" fill="#4d4e52"><text x="91.5" y="517.5" text-anchor="end">0</text><text x="91.5" y="459.5" text-anchor="end">10</text><text x="91.5" y="401.6" text-anchor="end">20</text><text x="91.5" y="343.6" text-anchor="end">30</text><text x="91.5" y="285.6" text-anchor="end">40</text><text x="91.5" y="227.6" text-anchor="end">50</text><text x="91.5" y="867.7" text-anchor="end">0</text><text x="91.5" y="809.3" text-anchor="end">10</text><text x="91.5" y="750.9" text-anchor="end">20</text><text x="91.5" y="692.5" text-anchor="end">30</text><text x="91.5" y="634.1" text-anchor="end">40</text><text x="91.5" y="575.7" text-anchor="end">50</text><text x="91.5" y="1215.6" text-anchor="end">0</text><text x="91.5" y="1157.7" text-anchor="end">10</text><text x="91.5" y="1099.7" text-anchor="end">20</text><text x="91.5" y="1041.8" text-anchor="end">30</text><text x="91.5" y="983.9" text-anchor="end">40</text><text x="91.5" y="925.9" text-anchor="end">50</text><text x="91.5" y="1563.3" text-anchor="end">0</text><text x="91.5" y="1505.4" text-anchor="end">10</text><text x="91.5" y="1447.4" text-anchor="end">20</text><text x="91.5" y="1389.5" text-anchor="end">30</text><text x="91.5" y="1331.5" text-anchor="end">40</text><text x="91.5" y="1273.5" text-anchor="end">50</text><text x="91.5" y="1913.4" text-anchor="end">0</text><text x="91.5" y="1855" text-anchor="end">10</text><text x="91.5" y="1796.7" text-anchor="end">20</text><text x="91.5" y="1738.3" text-anchor="end">30</text><text x="91.5" y="1679.9" text-anchor="end">40</text><text x="91.5" y="1621.5" text-anchor="end">50</text><text x="91.5" y="2261.3" text-anchor="end">0</text><text x="91.5" y="2203.4" text-anchor="end">10</text><text x="91.5" y="2145.4" text-anchor="end">20</text><text x="91.5" y="2087.5" text-anchor="end">30</text><text x="91.5" y="2029.5" text-anchor="end">40</text><text x="91.5" y="1971.6" text-anchor="end">50</text><text x="133.2" y="2328.5" text-anchor="middle">0</text><text x="198.1" y="2328.5" text-anchor="middle">25</text><text x="263" y="2328.5" text-anchor="middle">50</text><text x="327.9" y="2328.5" text-anchor="middle">75</text><text x="392.8" y="2328.5" text-anchor="middle">100</text><text x="481.2" y="2328.5" text-anchor="middle">0</text><text x="546.1" y="2328.5" text-anchor="middle">25</text><text x="611" y="2328.5" text-anchor="middle">50</text><text x="675.9" y="2328.5" text-anchor="middle">75</text><text x="740.8" y="2328.5" text-anchor="middle">100</text></g>
<text x="265.6" y="2368.6" font-family="Liberation Serif, serif" font-size="45" fill="#4d4e52" textLength="377.7" lengthAdjust="spacingAndGlyphs">Level / dB SPL(FF)</text>
<text transform="translate(38.5 1376.8) rotate(-90)" font-family="Liberation Serif, serif" font-size="45.6" fill="#4d4e52" textLength="281" lengthAdjust="spacingAndGlyphs">Loudness / CU</text>
<rect x="105.9" y="103.9" width="85.6" height="69.1" fill="#fff" stroke="#231f20" stroke-width="1.7"/>
<text x="118.7" y="147.7" font-family="Liberation Serif, serif" font-size="37" fill="#231f20" textLength="59.4" lengthAdjust="spacingAndGlyphs">HI5</text>
<rect x="200.5" y="4.1" width="370.6" height="168.7" fill="#fff" stroke="#87898c" stroke-width="1.5"/>
<path d="" stroke="#a7a9ac" stroke-width="3.5" fill="none"/>
<path d="M260.65 29.5l18.4 18.4M260.65 47.9l18.4 -18.4" stroke="#a7a9ac" stroke-width="3.5" fill="none"/>
<path d="M211.6 77.1H287.2" stroke="#a7a9ac" stroke-width="7.6" fill="none"/>
<path d="M211.6 115.6H287.2" stroke="#231f20" stroke-width="4.1" fill="none"/>
<path d="M211.6 154H287.2" stroke="#231f20" stroke-width="4.1" fill="none" stroke-dasharray="29.2 17.1"/>
<text x="299.5" y="46.7" font-family="Liberation Serif, serif" font-size="36.5" fill="#231f20" textLength="149.5" lengthAdjust="spacingAndGlyphs">raw data</text>
<text x="299.5" y="86" font-family="Liberation Serif, serif" font-size="36.5" fill="#231f20" textLength="239.5" lengthAdjust="spacingAndGlyphs">loud. function</text>
<text x="299.5" y="124.2" font-family="Liberation Serif, serif" font-size="36.5" fill="#231f20" textLength="264.5" lengthAdjust="spacingAndGlyphs">model version 4</text>
<text x="299.5" y="162.8" font-family="Liberation Serif, serif" font-size="36.5" fill="#231f20" textLength="264" lengthAdjust="spacingAndGlyphs">model version 1</text>
<rect x="580" y="47.1" width="220.3" height="125.6" fill="#fff" stroke="#87898c" stroke-width="1.5"/>
<path d="M591.2 80.6H628.6" stroke="#9496c9" stroke-width="7.6" fill="none"/>
<text x="637.3" y="89.6" font-family="Liberation Serif, serif" font-size="36.5" fill="#231f20" textLength="117.5" lengthAdjust="spacingAndGlyphs">left ear</text>
<path d="M591.2 117.6H628.6" stroke="#f4979a" stroke-width="7.6" fill="none"/>
<text x="637.3" y="126.6" font-family="Liberation Serif, serif" font-size="36.5" fill="#231f20" textLength="143.3" lengthAdjust="spacingAndGlyphs">right ear</text>
<path d="M591.2 155H628.6" stroke="#a7a9ac" stroke-width="7.6" fill="none"/>
<text x="637.3" y="163.7" font-family="Liberation Serif, serif" font-size="36.5" fill="#231f20" textLength="156.2" lengthAdjust="spacingAndGlyphs">both ears</text>
</svg>
</body></html>
